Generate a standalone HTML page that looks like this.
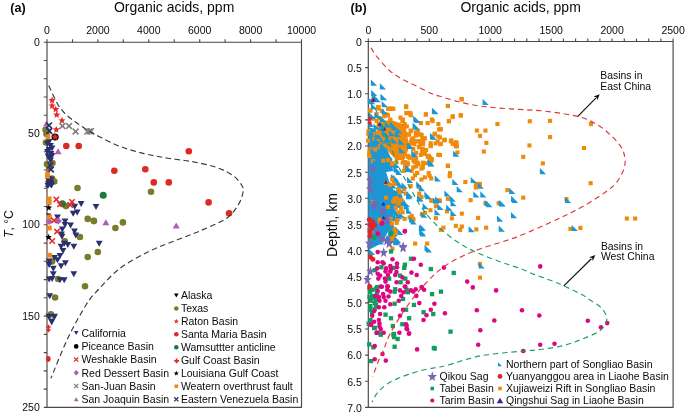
<!DOCTYPE html>
<html><head><meta charset="utf-8"><style>
html,body{margin:0;padding:0;background:#fff;width:685px;height:414px;overflow:hidden}
svg{display:block;will-change:transform}
text{font-family:"Liberation Sans",sans-serif}
</style></head><body>
<svg width="685" height="414" viewBox="0 0 685 414" font-family="Liberation Sans, sans-serif" fill="#0a0a0a">
<rect width="685" height="414" fill="#fff"/>
<rect x="47.0" y="42.2" width="254.5" height="365.2" fill="none" stroke="#4f4543" stroke-width="1.15" stroke-linejoin="round"/>
<path d="M47.0 42.2v-3M72.5 42.2v-3M97.9 42.2v-3M123.3 42.2v-3M148.8 42.2v-3M174.2 42.2v-3M199.7 42.2v-3M225.1 42.2v-3M250.6 42.2v-3M276.1 42.2v-3M301.5 42.2v-3M47.0 42.2h-3.2M47.0 60.5h-3.2M47.0 78.7h-3.2M47.0 97.0h-3.2M47.0 115.2h-3.2M47.0 133.5h-3.2M47.0 151.8h-3.2M47.0 170.0h-3.2M47.0 188.3h-3.2M47.0 206.5h-3.2M47.0 224.8h-3.2M47.0 243.1h-3.2M47.0 261.3h-3.2M47.0 279.6h-3.2M47.0 297.8h-3.2M47.0 316.1h-3.2M47.0 334.4h-3.2M47.0 352.6h-3.2M47.0 370.9h-3.2M47.0 389.1h-3.2M47.0 407.4h-3.2" stroke="#4f4543" stroke-width="1.1" fill="none"/>
<rect x="368.3" y="41.5" width="304.8" height="365.9" fill="none" stroke="#4f4543" stroke-width="1.15" stroke-linejoin="round"/>
<path d="M368.3 41.5v-3M380.5 41.5v-3M392.7 41.5v-3M404.9 41.5v-3M417.1 41.5v-3M429.3 41.5v-3M441.5 41.5v-3M453.6 41.5v-3M465.8 41.5v-3M478.0 41.5v-3M490.2 41.5v-3M502.4 41.5v-3M514.6 41.5v-3M526.8 41.5v-3M539.0 41.5v-3M551.2 41.5v-3M563.4 41.5v-3M575.6 41.5v-3M587.8 41.5v-3M599.9 41.5v-3M612.1 41.5v-3M624.3 41.5v-3M636.5 41.5v-3M648.7 41.5v-3M660.9 41.5v-3M673.1 41.5v-3M368.3 41.5h-3.2M368.3 67.6h-3.2M368.3 93.8h-3.2M368.3 119.9h-3.2M368.3 146.0h-3.2M368.3 172.2h-3.2M368.3 198.3h-3.2M368.3 224.4h-3.2M368.3 250.6h-3.2M368.3 276.7h-3.2M368.3 302.9h-3.2M368.3 329.0h-3.2M368.3 355.1h-3.2M368.3 381.3h-3.2M368.3 407.4h-3.2" stroke="#4f4543" stroke-width="1.1" fill="none"/>
<circle cx="151.0" cy="191.7" r="3.3" fill="#7b7b2c"/>
<circle cx="122.9" cy="222.4" r="3.3" fill="#7b7b2c"/>
<circle cx="93.9" cy="221.1" r="3.3" fill="#7b7b2c"/>
<circle cx="115.4" cy="228.0" r="3.3" fill="#7b7b2c"/>
<circle cx="77.5" cy="188.0" r="3.3" fill="#7b7b2c"/>
<circle cx="66.0" cy="206.1" r="3.3" fill="#7b7b2c"/>
<circle cx="87.7" cy="218.9" r="3.3" fill="#7b7b2c"/>
<circle cx="93.8" cy="220.7" r="3.3" fill="#7b7b2c"/>
<circle cx="79.9" cy="237.0" r="3.3" fill="#7b7b2c"/>
<circle cx="64.8" cy="241.3" r="3.3" fill="#7b7b2c"/>
<circle cx="97.8" cy="252.0" r="3.3" fill="#7b7b2c"/>
<circle cx="87.7" cy="257.0" r="3.3" fill="#7b7b2c"/>
<circle cx="52.1" cy="261.5" r="3.3" fill="#7b7b2c"/>
<circle cx="58.1" cy="279.0" r="3.3" fill="#7b7b2c"/>
<circle cx="85.0" cy="286.3" r="3.3" fill="#7b7b2c"/>
<circle cx="55.1" cy="297.5" r="3.3" fill="#7b7b2c"/>
<circle cx="50.9" cy="314.2" r="3.3" fill="#7b7b2c"/>
<circle cx="46.0" cy="142.5" r="3.3" fill="#7b7b2c"/>
<circle cx="47.0" cy="164.0" r="3.3" fill="#7b7b2c"/>
<circle cx="52.5" cy="163.0" r="3.3" fill="#7b7b2c"/>
<circle cx="49.0" cy="167.5" r="3.3" fill="#7b7b2c"/>
<circle cx="54.3" cy="181.5" r="3.3" fill="#7b7b2c"/>
<circle cx="52.0" cy="178.5" r="3.3" fill="#7b7b2c"/>
<circle cx="45.6" cy="129.7" r="3.3" fill="#7b7b2c"/>
<circle cx="47.0" cy="131.0" r="3.3" fill="#7b7b2c"/>
<circle cx="46.5" cy="134.0" r="3.3" fill="#7b7b2c"/>
<circle cx="66.3" cy="146.0" r="3.3" fill="#dc2a26"/>
<circle cx="78.7" cy="146.0" r="3.3" fill="#dc2a26"/>
<circle cx="114.3" cy="170.8" r="3.3" fill="#dc2a26"/>
<circle cx="188.8" cy="151.2" r="3.3" fill="#dc2a26"/>
<circle cx="145.3" cy="169.3" r="3.3" fill="#dc2a26"/>
<circle cx="153.8" cy="182.4" r="3.3" fill="#dc2a26"/>
<circle cx="168.8" cy="182.4" r="3.3" fill="#dc2a26"/>
<circle cx="208.6" cy="202.4" r="3.3" fill="#dc2a26"/>
<circle cx="229.1" cy="213.3" r="3.3" fill="#dc2a26"/>
<ellipse cx="48.3" cy="358.9" rx="2.3" ry="2.8" fill="#dc2a26"/>
<circle cx="103.2" cy="195.3" r="3.5" fill="#177c3b"/>
<circle cx="62.4" cy="203.7" r="3.5" fill="#177c3b"/>
<path d="M43.1 126.6h7l-3.5 -6z" fill="#b25bb5"/>
<path d="M54.6 154.2h7l-3.5 -6z" fill="#b25bb5"/>
<path d="M172.7 228.5h7l-3.5 -6z" fill="#b25bb5"/>
<path d="M102.4 225.2h7l-3.5 -6z" fill="#b25bb5"/>
<path d="M46.1 213.5h5l-2.5 4z" fill="#000"/>
<path d="M77.7 201.0h6.8l-3.4 6.0z" fill="#28306e"/>
<path d="M71.3 203.8h6.8l-3.4 6.0z" fill="#28306e"/>
<path d="M73.8 209.5h6.8l-3.4 6.0z" fill="#28306e"/>
<path d="M92.6 204.1h6.8l-3.4 6.0z" fill="#28306e"/>
<path d="M69.8 210.7h6.8l-3.4 6.0z" fill="#28306e"/>
<path d="M54.1 214.5h6.8l-3.4 6.0z" fill="#28306e"/>
<path d="M61.6 218.6h6.8l-3.4 6.0z" fill="#28306e"/>
<path d="M61.6 222.0h6.8l-3.4 6.0z" fill="#28306e"/>
<path d="M67.2 222.4h6.8l-3.4 6.0z" fill="#28306e"/>
<path d="M58.9 226.5h6.8l-3.4 6.0z" fill="#28306e"/>
<path d="M58.1 231.5h6.8l-3.4 6.0z" fill="#28306e"/>
<path d="M58.6 233.8h6.8l-3.4 6.0z" fill="#28306e"/>
<path d="M71.1 228.6h6.8l-3.4 6.0z" fill="#28306e"/>
<path d="M72.4 232.4h6.8l-3.4 6.0z" fill="#28306e"/>
<path d="M95.8 240.7h6.8l-3.4 6.0z" fill="#28306e"/>
<path d="M60.8 240.7h6.8l-3.4 6.0z" fill="#28306e"/>
<path d="M57.7 243.7h6.8l-3.4 6.0z" fill="#28306e"/>
<path d="M64.4 241.9h6.8l-3.4 6.0z" fill="#28306e"/>
<path d="M70.4 243.7h6.8l-3.4 6.0z" fill="#28306e"/>
<path d="M59.6 248.0h6.8l-3.4 6.0z" fill="#28306e"/>
<path d="M56.6 253.0h6.8l-3.4 6.0z" fill="#28306e"/>
<path d="M51.1 254.9h6.8l-3.4 6.0z" fill="#28306e"/>
<path d="M54.1 257.3h6.8l-3.4 6.0z" fill="#28306e"/>
<path d="M45.7 258.5h6.8l-3.4 6.0z" fill="#28306e"/>
<path d="M45.7 262.1h6.8l-3.4 6.0z" fill="#28306e"/>
<path d="M62.0 260.3h6.8l-3.4 6.0z" fill="#28306e"/>
<path d="M57.7 263.3h6.8l-3.4 6.0z" fill="#28306e"/>
<path d="M49.9 265.7h6.8l-3.4 6.0z" fill="#28306e"/>
<path d="M49.9 271.2h6.8l-3.4 6.0z" fill="#28306e"/>
<path d="M70.4 271.2h6.8l-3.4 6.0z" fill="#28306e"/>
<path d="M45.7 276.6h6.8l-3.4 6.0z" fill="#28306e"/>
<path d="M48.7 276.0h6.8l-3.4 6.0z" fill="#28306e"/>
<path d="M56.6 277.2h6.8l-3.4 6.0z" fill="#28306e"/>
<path d="M60.8 277.2h6.8l-3.4 6.0z" fill="#28306e"/>
<path d="M46.3 293.2h6.8l-3.4 6.0z" fill="#28306e"/>
<path d="M45.6 139.0h6.8l-3.4 6.0z" fill="#28306e"/>
<path d="M47.1 143.0h6.8l-3.4 6.0z" fill="#28306e"/>
<path d="M45.6 147.0h6.8l-3.4 6.0z" fill="#28306e"/>
<path d="M47.6 151.0h6.8l-3.4 6.0z" fill="#28306e"/>
<path d="M46.1 155.0h6.8l-3.4 6.0z" fill="#28306e"/>
<path d="M47.1 157.5h6.8l-3.4 6.0z" fill="#28306e"/>
<path d="M44.1 141.0h6.8l-3.4 6.0z" fill="#28306e"/>
<path d="M48.6 145.5h6.8l-3.4 6.0z" fill="#28306e"/>
<path d="M44.1 149.0h6.8l-3.4 6.0z" fill="#28306e"/>
<path d="M48.6 153.0h6.8l-3.4 6.0z" fill="#28306e"/>
<path d="M44.6 153.5h6.8l-3.4 6.0z" fill="#28306e"/>
<path d="M45.6 176.0h6.8l-3.4 6.0z" fill="#28306e"/>
<path d="M45.1 178.0h6.8l-3.4 6.0z" fill="#28306e"/>
<path d="M47.1 180.0h6.8l-3.4 6.0z" fill="#28306e"/>
<path d="M44.6 183.0h6.8l-3.4 6.0z" fill="#28306e"/>
<path d="M48.1 182.5h6.8l-3.4 6.0z" fill="#28306e"/>
<path d="M45.4 313.8h12.6l-6.3 11.6z" fill="#28306e"/>
<path d="M49.5 319.0h4.4l-2.2 -3.6z" fill="#8b8c4a"/>
<path d="M50.8 318.5h1.8l-0.9 -1.4z" fill="#fff"/>
<circle cx="55.1" cy="137.0" r="3.6" fill="#000"/>
<path d="M49.2 217.9l3.6 3.6l-3.6 3.6l-3.6 -3.6z" fill="#b25bb5"/>
<path d="M58.3 217.3l3.6 3.6l-3.6 3.6l-3.6 -3.6z" fill="#b25bb5"/>
<path d="M46.1 122.5l5.8 5.8M51.9 122.5l-5.8 5.8" stroke="#28306e" stroke-width="1.7" fill="none"/>
<path d="M46.4 128.1l5.8 5.8M52.2 128.1l-5.8 5.8" stroke="#28306e" stroke-width="1.7" fill="none"/>
<path d="M47.4 162.4l5.8 5.8M53.2 162.4l-5.8 5.8" stroke="#28306e" stroke-width="1.7" fill="none"/>
<path d="M48.0 166.6l5.8 5.8M53.8 166.6l-5.8 5.8" stroke="#28306e" stroke-width="1.7" fill="none"/>
<path d="M45.6 181.1l5.8 5.8M51.4 181.1l-5.8 5.8" stroke="#28306e" stroke-width="1.7" fill="none"/>
<path d="M48.1 177.1l5.8 5.8M53.9 177.1l-5.8 5.8" stroke="#28306e" stroke-width="1.7" fill="none"/>
<rect x="45.5" y="134.6" width="4.8" height="4.8" fill="#f0891a"/>
<rect x="45.1" y="171.9" width="4.8" height="4.8" fill="#f0891a"/>
<rect x="45.1" y="173.9" width="4.8" height="4.8" fill="#f0891a"/>
<rect x="46.8" y="196.5" width="4.8" height="4.8" fill="#f0891a"/>
<rect x="46.8" y="200.2" width="4.8" height="4.8" fill="#f0891a"/>
<rect x="47.2" y="214.5" width="4.8" height="4.8" fill="#f0891a"/>
<rect x="47.0" y="225.6" width="4.8" height="4.8" fill="#f0891a"/>
<rect x="47.3" y="252.8" width="4.8" height="4.8" fill="#f0891a"/>
<path d="M53.6 196.7l5.4 5.4M59.0 196.7l-5.4 5.4" stroke="#e3282a" stroke-width="1.5" fill="none"/>
<path d="M57.3 201.6l5.4 5.4M62.7 201.6l-5.4 5.4" stroke="#e3282a" stroke-width="1.5" fill="none"/>
<path d="M69.3 199.2l5.4 5.4M74.7 199.2l-5.4 5.4" stroke="#e3282a" stroke-width="1.5" fill="none"/>
<path d="M67.5 202.2l5.4 5.4M72.9 202.2l-5.4 5.4" stroke="#e3282a" stroke-width="1.5" fill="none"/>
<path d="M51.3 217.9l5.4 5.4M56.7 217.9l-5.4 5.4" stroke="#e3282a" stroke-width="1.5" fill="none"/>
<path d="M54.3 228.9l5.4 5.4M59.7 228.9l-5.4 5.4" stroke="#e3282a" stroke-width="1.5" fill="none"/>
<path d="M49.5 238.3l5.4 5.4M54.9 238.3l-5.4 5.4" stroke="#e3282a" stroke-width="1.5" fill="none"/>
<path d="M59.5 123.1l5.8 5.8M65.3 123.1l-5.8 5.8" stroke="#7d7d7d" stroke-width="1.5" fill="none"/>
<path d="M66.1 123.1l5.8 5.8M71.9 123.1l-5.8 5.8" stroke="#7d7d7d" stroke-width="1.5" fill="none"/>
<path d="M72.7 128.6l5.8 5.8M78.5 128.6l-5.8 5.8" stroke="#7d7d7d" stroke-width="1.5" fill="none"/>
<path d="M84.4 128.7l5.8 5.8M90.2 128.7l-5.8 5.8" stroke="#7d7d7d" stroke-width="1.5" fill="none"/>
<path d="M86.6 128.5l5.8 5.8M92.4 128.5l-5.8 5.8" stroke="#7d7d7d" stroke-width="1.5" fill="none"/>
<path d="M88.1 128.3l5.8 5.8M93.9 128.3l-5.8 5.8" stroke="#7d7d7d" stroke-width="1.5" fill="none"/>
<polygon points="52.1,96.6 53.1,99.0 55.7,99.2 53.7,100.9 54.3,103.5 52.1,102.1 49.9,103.5 50.5,100.9 48.5,99.2 51.1,99.0" fill="#e3282a"/>
<polygon points="52.1,102.0 53.1,104.4 55.7,104.6 53.7,106.3 54.3,108.9 52.1,107.5 49.9,108.9 50.5,106.3 48.5,104.6 51.1,104.4" fill="#e3282a"/>
<polygon points="55.7,105.6 56.7,108.0 59.3,108.2 57.3,109.9 57.9,112.5 55.7,111.1 53.5,112.5 54.1,109.9 52.1,108.2 54.7,108.0" fill="#e3282a"/>
<polygon points="56.7,111.1 57.7,113.5 60.3,113.7 58.3,115.4 58.9,118.0 56.7,116.6 54.5,118.0 55.1,115.4 53.1,113.7 55.7,113.5" fill="#e3282a"/>
<polygon points="62.0,116.8 63.0,119.2 65.6,119.4 63.6,121.1 64.2,123.7 62.0,122.3 59.8,123.7 60.4,121.1 58.4,119.4 61.0,119.2" fill="#e3282a"/>
<polygon points="56.3,125.9 57.3,128.3 59.9,128.5 57.9,130.2 58.5,132.8 56.3,131.4 54.1,132.8 54.7,130.2 52.7,128.5 55.3,128.3" fill="#e3282a"/>
<polygon points="55.1,133.2 56.1,135.6 58.7,135.8 56.7,137.5 57.3,140.1 55.1,138.7 52.9,140.1 53.5,137.5 51.5,135.8 54.1,135.6" fill="#e3282a"/>
<polygon points="48.8,204.3 49.7,206.5 52.0,206.6 50.3,208.2 50.8,210.5 48.8,209.2 46.8,210.5 47.3,208.2 45.6,206.6 47.9,206.5" fill="#000"/>
<polygon points="48.6,233.8 49.5,236.0 51.8,236.1 50.1,237.7 50.6,240.0 48.6,238.7 46.6,240.0 47.1,237.7 45.4,236.1 47.7,236.0" fill="#000"/>
<path d="M46.3 327.0h4.4M48.5 324.8v4.4" stroke="#e3282a" stroke-width="1.5" fill="none"/>
<path d="M46.3 330.0h4.4M48.5 327.8v4.4" stroke="#e3282a" stroke-width="1.5" fill="none"/>
<polygon points="377.0,122.0 390.0,120.0 400.0,123.0 407.0,132.0 409.0,148.0 404.0,160.0 396.0,160.0 388.0,151.0 381.0,140.0 376.0,128.0" fill="#f08a0a"/>
<polygon points="368.6,127.0 375.0,129.0 382.0,139.0 388.0,151.0 392.0,161.0 393.0,171.0 386.0,172.0 389.0,181.0 394.0,191.0 396.0,200.0 394.0,214.0 389.0,230.0 382.0,243.0 368.6,250.0" fill="#1b98d3"/>
<rect x="415.8" y="128.7" width="4.1" height="4.1" fill="#f08a0a"/>
<rect x="408.8" y="140.0" width="4.1" height="4.1" fill="#f08a0a"/>
<rect x="412.9" y="159.7" width="4.1" height="4.1" fill="#f08a0a"/>
<rect x="398.4" y="115.6" width="4.1" height="4.1" fill="#f08a0a"/>
<rect x="417.7" y="139.1" width="4.1" height="4.1" fill="#f08a0a"/>
<rect x="407.5" y="155.8" width="4.1" height="4.1" fill="#f08a0a"/>
<rect x="401.9" y="168.8" width="4.1" height="4.1" fill="#f08a0a"/>
<rect x="420.4" y="136.1" width="4.1" height="4.1" fill="#f08a0a"/>
<rect x="401.6" y="138.4" width="4.1" height="4.1" fill="#f08a0a"/>
<rect x="407.3" y="142.7" width="4.1" height="4.1" fill="#f08a0a"/>
<rect x="402.0" y="127.3" width="4.1" height="4.1" fill="#f08a0a"/>
<rect x="401.6" y="140.6" width="4.1" height="4.1" fill="#f08a0a"/>
<rect x="376.2" y="104.9" width="4.1" height="4.1" fill="#f08a0a"/>
<rect x="387.8" y="106.7" width="4.1" height="4.1" fill="#f08a0a"/>
<rect x="391.3" y="106.7" width="4.1" height="4.1" fill="#f08a0a"/>
<rect x="404.1" y="104.2" width="4.1" height="4.1" fill="#f08a0a"/>
<rect x="404.6" y="110.9" width="4.1" height="4.1" fill="#f08a0a"/>
<rect x="408.2" y="110.9" width="4.1" height="4.1" fill="#f08a0a"/>
<rect x="408.8" y="113.2" width="4.1" height="4.1" fill="#f08a0a"/>
<rect x="423.9" y="112.5" width="4.1" height="4.1" fill="#f08a0a"/>
<rect x="385.9" y="113.2" width="4.1" height="4.1" fill="#f08a0a"/>
<rect x="368.3" y="108.5" width="4.1" height="4.1" fill="#f08a0a"/>
<rect x="388.3" y="117.5" width="4.1" height="4.1" fill="#f08a0a"/>
<rect x="400.9" y="117.5" width="4.1" height="4.1" fill="#f08a0a"/>
<rect x="429.9" y="117.5" width="4.1" height="4.1" fill="#f08a0a"/>
<rect x="459.8" y="97.4" width="4.1" height="4.1" fill="#f08a0a"/>
<rect x="445.8" y="103.9" width="4.1" height="4.1" fill="#f08a0a"/>
<rect x="450.6" y="115.0" width="4.1" height="4.1" fill="#f08a0a"/>
<rect x="458.6" y="113.5" width="4.1" height="4.1" fill="#f08a0a"/>
<rect x="446.8" y="119.2" width="4.1" height="4.1" fill="#f08a0a"/>
<rect x="438.8" y="127.1" width="4.1" height="4.1" fill="#f08a0a"/>
<rect x="495.4" y="122.0" width="4.1" height="4.1" fill="#f08a0a"/>
<rect x="527.7" y="119.2" width="4.1" height="4.1" fill="#f08a0a"/>
<rect x="548.0" y="118.8" width="4.1" height="4.1" fill="#f08a0a"/>
<rect x="474.8" y="128.5" width="4.1" height="4.1" fill="#f08a0a"/>
<rect x="483.4" y="128.5" width="4.1" height="4.1" fill="#f08a0a"/>
<rect x="477.9" y="133.8" width="4.1" height="4.1" fill="#f08a0a"/>
<rect x="548.0" y="135.0" width="4.1" height="4.1" fill="#f08a0a"/>
<rect x="442.8" y="137.6" width="4.1" height="4.1" fill="#f08a0a"/>
<rect x="449.3" y="138.3" width="4.1" height="4.1" fill="#f08a0a"/>
<rect x="437.9" y="135.3" width="4.1" height="4.1" fill="#f08a0a"/>
<rect x="588.9" y="122.0" width="4.1" height="4.1" fill="#f08a0a"/>
<rect x="581.9" y="146.0" width="4.1" height="4.1" fill="#f08a0a"/>
<rect x="588.6" y="181.1" width="4.1" height="4.1" fill="#f08a0a"/>
<rect x="564.4" y="197.0" width="4.1" height="4.1" fill="#f08a0a"/>
<rect x="568.4" y="226.8" width="4.1" height="4.1" fill="#f08a0a"/>
<rect x="578.4" y="225.9" width="4.1" height="4.1" fill="#f08a0a"/>
<rect x="624.8" y="216.5" width="4.1" height="4.1" fill="#f08a0a"/>
<rect x="633.1" y="216.5" width="4.1" height="4.1" fill="#f08a0a"/>
<rect x="454.6" y="140.8" width="4.1" height="4.1" fill="#f08a0a"/>
<rect x="450.6" y="141.8" width="4.1" height="4.1" fill="#f08a0a"/>
<rect x="454.9" y="144.3" width="4.1" height="4.1" fill="#f08a0a"/>
<rect x="438.8" y="141.8" width="4.1" height="4.1" fill="#f08a0a"/>
<rect x="484.3" y="140.8" width="4.1" height="4.1" fill="#f08a0a"/>
<rect x="527.4" y="143.4" width="4.1" height="4.1" fill="#f08a0a"/>
<rect x="481.8" y="149.5" width="4.1" height="4.1" fill="#f08a0a"/>
<rect x="455.4" y="150.4" width="4.1" height="4.1" fill="#f08a0a"/>
<rect x="521.2" y="154.8" width="4.1" height="4.1" fill="#f08a0a"/>
<rect x="540.8" y="161.3" width="4.1" height="4.1" fill="#f08a0a"/>
<rect x="445.8" y="163.6" width="4.1" height="4.1" fill="#f08a0a"/>
<rect x="437.9" y="153.0" width="4.1" height="4.1" fill="#f08a0a"/>
<rect x="447.6" y="174.1" width="4.1" height="4.1" fill="#f08a0a"/>
<rect x="463.3" y="179.9" width="4.1" height="4.1" fill="#f08a0a"/>
<rect x="473.8" y="181.9" width="4.1" height="4.1" fill="#f08a0a"/>
<rect x="477.9" y="181.9" width="4.1" height="4.1" fill="#f08a0a"/>
<rect x="473.8" y="185.5" width="4.1" height="4.1" fill="#f08a0a"/>
<rect x="505.3" y="188.1" width="4.1" height="4.1" fill="#f08a0a"/>
<rect x="521.2" y="195.6" width="4.1" height="4.1" fill="#f08a0a"/>
<rect x="468.6" y="198.1" width="4.1" height="4.1" fill="#f08a0a"/>
<rect x="445.8" y="196.8" width="4.1" height="4.1" fill="#f08a0a"/>
<rect x="437.9" y="198.6" width="4.1" height="4.1" fill="#f08a0a"/>
<rect x="483.4" y="201.2" width="4.1" height="4.1" fill="#f08a0a"/>
<rect x="496.6" y="201.2" width="4.1" height="4.1" fill="#f08a0a"/>
<rect x="444.9" y="209.3" width="4.1" height="4.1" fill="#f08a0a"/>
<rect x="459.8" y="211.6" width="4.1" height="4.1" fill="#f08a0a"/>
<rect x="449.8" y="216.3" width="4.1" height="4.1" fill="#f08a0a"/>
<rect x="476.1" y="215.9" width="4.1" height="4.1" fill="#f08a0a"/>
<rect x="453.8" y="223.8" width="4.1" height="4.1" fill="#f08a0a"/>
<rect x="459.8" y="224.5" width="4.1" height="4.1" fill="#f08a0a"/>
<rect x="458.1" y="227.8" width="4.1" height="4.1" fill="#f08a0a"/>
<rect x="441.4" y="225.6" width="4.1" height="4.1" fill="#f08a0a"/>
<rect x="438.8" y="227.8" width="4.1" height="4.1" fill="#f08a0a"/>
<rect x="474.3" y="227.3" width="4.1" height="4.1" fill="#f08a0a"/>
<rect x="484.1" y="225.6" width="4.1" height="4.1" fill="#f08a0a"/>
<rect x="477.9" y="261.9" width="4.1" height="4.1" fill="#f08a0a"/>
<rect x="477.9" y="275.6" width="4.1" height="4.1" fill="#f08a0a"/>
<rect x="459.4" y="96.9" width="4.1" height="4.1" fill="#f08a0a"/>
<rect x="445.9" y="104.0" width="4.1" height="4.1" fill="#f08a0a"/>
<rect x="404.1" y="105.0" width="4.1" height="4.1" fill="#f08a0a"/>
<rect x="389.9" y="106.9" width="4.1" height="4.1" fill="#f08a0a"/>
<rect x="386.1" y="106.9" width="4.1" height="4.1" fill="#f08a0a"/>
<rect x="404.4" y="111.2" width="4.1" height="4.1" fill="#f08a0a"/>
<rect x="408.3" y="112.2" width="4.1" height="4.1" fill="#f08a0a"/>
<rect x="423.8" y="112.2" width="4.1" height="4.1" fill="#f08a0a"/>
<rect x="450.8" y="114.2" width="4.1" height="4.1" fill="#f08a0a"/>
<rect x="458.9" y="113.2" width="4.1" height="4.1" fill="#f08a0a"/>
<rect x="446.9" y="119.0" width="4.1" height="4.1" fill="#f08a0a"/>
<rect x="376.4" y="106.5" width="4.1" height="4.1" fill="#f08a0a"/>
<rect x="374.6" y="112.2" width="4.1" height="4.1" fill="#f08a0a"/>
<rect x="384.1" y="112.2" width="4.1" height="4.1" fill="#f08a0a"/>
<rect x="400.6" y="119.0" width="4.1" height="4.1" fill="#f08a0a"/>
<rect x="402.6" y="122.0" width="4.1" height="4.1" fill="#f08a0a"/>
<rect x="396.8" y="122.9" width="4.1" height="4.1" fill="#f08a0a"/>
<rect x="418.9" y="121.0" width="4.1" height="4.1" fill="#f08a0a"/>
<rect x="425.6" y="121.0" width="4.1" height="4.1" fill="#f08a0a"/>
<rect x="430.6" y="119.0" width="4.1" height="4.1" fill="#f08a0a"/>
<rect x="436.3" y="122.0" width="4.1" height="4.1" fill="#f08a0a"/>
<rect x="388.1" y="120.0" width="4.1" height="4.1" fill="#f08a0a"/>
<rect x="391.9" y="122.0" width="4.1" height="4.1" fill="#f08a0a"/>
<rect x="409.2" y="128.6" width="4.1" height="4.1" fill="#f08a0a"/>
<rect x="414.1" y="130.5" width="4.1" height="4.1" fill="#f08a0a"/>
<rect x="418.9" y="132.5" width="4.1" height="4.1" fill="#f08a0a"/>
<rect x="406.3" y="132.5" width="4.1" height="4.1" fill="#f08a0a"/>
<rect x="438.2" y="127.4" width="4.1" height="4.1" fill="#f08a0a"/>
<rect x="432.4" y="132.5" width="4.1" height="4.1" fill="#f08a0a"/>
<rect x="436.3" y="134.4" width="4.1" height="4.1" fill="#f08a0a"/>
<rect x="396.8" y="128.6" width="4.1" height="4.1" fill="#f08a0a"/>
<rect x="400.6" y="131.5" width="4.1" height="4.1" fill="#f08a0a"/>
<rect x="411.2" y="136.3" width="4.1" height="4.1" fill="#f08a0a"/>
<rect x="422.8" y="136.3" width="4.1" height="4.1" fill="#f08a0a"/>
<rect x="415.1" y="139.2" width="4.1" height="4.1" fill="#f08a0a"/>
<rect x="420.8" y="141.2" width="4.1" height="4.1" fill="#f08a0a"/>
<rect x="409.2" y="140.2" width="4.1" height="4.1" fill="#f08a0a"/>
<rect x="442.1" y="138.3" width="4.1" height="4.1" fill="#f08a0a"/>
<rect x="448.8" y="139.2" width="4.1" height="4.1" fill="#f08a0a"/>
<rect x="453.6" y="140.2" width="4.1" height="4.1" fill="#f08a0a"/>
<rect x="453.6" y="144.1" width="4.1" height="4.1" fill="#f08a0a"/>
<rect x="428.6" y="141.2" width="4.1" height="4.1" fill="#f08a0a"/>
<rect x="428.6" y="144.1" width="4.1" height="4.1" fill="#f08a0a"/>
<rect x="438.2" y="142.1" width="4.1" height="4.1" fill="#f08a0a"/>
<rect x="417.1" y="145.0" width="4.1" height="4.1" fill="#f08a0a"/>
<rect x="420.8" y="147.0" width="4.1" height="4.1" fill="#f08a0a"/>
<rect x="411.2" y="147.0" width="4.1" height="4.1" fill="#f08a0a"/>
<rect x="414.1" y="150.8" width="4.1" height="4.1" fill="#f08a0a"/>
<rect x="422.8" y="151.8" width="4.1" height="4.1" fill="#f08a0a"/>
<rect x="399.6" y="148.9" width="4.1" height="4.1" fill="#f08a0a"/>
<rect x="402.6" y="150.8" width="4.1" height="4.1" fill="#f08a0a"/>
<rect x="406.3" y="154.8" width="4.1" height="4.1" fill="#f08a0a"/>
<rect x="436.3" y="152.8" width="4.1" height="4.1" fill="#f08a0a"/>
<rect x="425.6" y="154.8" width="4.1" height="4.1" fill="#f08a0a"/>
<rect x="428.6" y="156.6" width="4.1" height="4.1" fill="#f08a0a"/>
<rect x="414.1" y="156.6" width="4.1" height="4.1" fill="#f08a0a"/>
<rect x="416.1" y="161.4" width="4.1" height="4.1" fill="#f08a0a"/>
<rect x="420.8" y="165.3" width="4.1" height="4.1" fill="#f08a0a"/>
<rect x="411.2" y="165.3" width="4.1" height="4.1" fill="#f08a0a"/>
<rect x="445.9" y="163.9" width="4.1" height="4.1" fill="#f08a0a"/>
<rect x="400.6" y="160.5" width="4.1" height="4.1" fill="#f08a0a"/>
<rect x="404.4" y="164.3" width="4.1" height="4.1" fill="#f08a0a"/>
<rect x="447.9" y="171.1" width="4.1" height="4.1" fill="#f08a0a"/>
<rect x="426.6" y="171.1" width="4.1" height="4.1" fill="#f08a0a"/>
<rect x="415.1" y="171.1" width="4.1" height="4.1" fill="#f08a0a"/>
<rect x="376.4" y="105.0" width="4.1" height="4.1" fill="#f08a0a"/>
<rect x="388.6" y="106.5" width="4.1" height="4.1" fill="#f08a0a"/>
<rect x="368.2" y="108.5" width="4.1" height="4.1" fill="#f08a0a"/>
<rect x="379.8" y="108.9" width="4.1" height="4.1" fill="#f08a0a"/>
<rect x="385.1" y="113.2" width="4.1" height="4.1" fill="#f08a0a"/>
<rect x="371.1" y="116.7" width="4.1" height="4.1" fill="#f08a0a"/>
<rect x="382.2" y="114.2" width="4.1" height="4.1" fill="#f08a0a"/>
<rect x="388.1" y="119.0" width="4.1" height="4.1" fill="#f08a0a"/>
<rect x="390.9" y="121.0" width="4.1" height="4.1" fill="#f08a0a"/>
<rect x="396.8" y="123.0" width="4.1" height="4.1" fill="#f08a0a"/>
<rect x="400.6" y="119.0" width="4.1" height="4.1" fill="#f08a0a"/>
<rect x="377.4" y="116.2" width="4.1" height="4.1" fill="#f08a0a"/>
<rect x="374.6" y="119.0" width="4.1" height="4.1" fill="#f08a0a"/>
<rect x="384.6" y="124.9" width="4.1" height="4.1" fill="#f08a0a"/>
<rect x="377.9" y="126.3" width="4.1" height="4.1" fill="#f08a0a"/>
<rect x="387.6" y="127.8" width="4.1" height="4.1" fill="#f08a0a"/>
<rect x="375.6" y="131.1" width="4.1" height="4.1" fill="#f08a0a"/>
<rect x="396.8" y="128.6" width="4.1" height="4.1" fill="#f08a0a"/>
<rect x="400.6" y="125.9" width="4.1" height="4.1" fill="#f08a0a"/>
<rect x="378.9" y="129.1" width="4.1" height="4.1" fill="#f08a0a"/>
<rect x="371.1" y="200.1" width="4.1" height="4.1" fill="#f08a0a"/>
<rect x="377.6" y="217.5" width="4.1" height="4.1" fill="#f08a0a"/>
<rect x="378.1" y="219.6" width="4.1" height="4.1" fill="#f08a0a"/>
<rect x="369.4" y="228.9" width="4.1" height="4.1" fill="#f08a0a"/>
<rect x="391.8" y="227.8" width="4.1" height="4.1" fill="#f08a0a"/>
<rect x="392.2" y="232.8" width="4.1" height="4.1" fill="#f08a0a"/>
<rect x="389.1" y="224.5" width="4.1" height="4.1" fill="#f08a0a"/>
<rect x="407.6" y="215.3" width="4.1" height="4.1" fill="#f08a0a"/>
<rect x="411.3" y="217.5" width="4.1" height="4.1" fill="#f08a0a"/>
<rect x="413.1" y="241.5" width="4.1" height="4.1" fill="#f08a0a"/>
<rect x="425.1" y="241.5" width="4.1" height="4.1" fill="#f08a0a"/>
<rect x="390.4" y="246.6" width="4.1" height="4.1" fill="#f08a0a"/>
<rect x="400.8" y="124.0" width="4.1" height="4.1" fill="#f08a0a"/>
<rect x="404.8" y="124.4" width="4.1" height="4.1" fill="#f08a0a"/>
<rect x="408.6" y="128.8" width="4.1" height="4.1" fill="#f08a0a"/>
<rect x="407.1" y="132.6" width="4.1" height="4.1" fill="#f08a0a"/>
<rect x="399.8" y="131.6" width="4.1" height="4.1" fill="#f08a0a"/>
<rect x="399.3" y="135.5" width="4.1" height="4.1" fill="#f08a0a"/>
<rect x="401.8" y="136.4" width="4.1" height="4.1" fill="#f08a0a"/>
<rect x="413.8" y="130.6" width="4.1" height="4.1" fill="#f08a0a"/>
<rect x="413.8" y="133.5" width="4.1" height="4.1" fill="#f08a0a"/>
<rect x="417.2" y="132.6" width="4.1" height="4.1" fill="#f08a0a"/>
<rect x="419.6" y="133.0" width="4.1" height="4.1" fill="#f08a0a"/>
<rect x="422.1" y="136.4" width="4.1" height="4.1" fill="#f08a0a"/>
<rect x="421.1" y="139.3" width="4.1" height="4.1" fill="#f08a0a"/>
<rect x="409.6" y="137.4" width="4.1" height="4.1" fill="#f08a0a"/>
<rect x="412.4" y="139.3" width="4.1" height="4.1" fill="#f08a0a"/>
<rect x="408.6" y="141.3" width="4.1" height="4.1" fill="#f08a0a"/>
<rect x="412.4" y="142.2" width="4.1" height="4.1" fill="#f08a0a"/>
<rect x="418.2" y="142.2" width="4.1" height="4.1" fill="#f08a0a"/>
<rect x="416.8" y="145.1" width="4.1" height="4.1" fill="#f08a0a"/>
<rect x="421.1" y="142.2" width="4.1" height="4.1" fill="#f08a0a"/>
<rect x="399.8" y="143.2" width="4.1" height="4.1" fill="#f08a0a"/>
<rect x="402.8" y="144.2" width="4.1" height="4.1" fill="#f08a0a"/>
<rect x="399.3" y="146.1" width="4.1" height="4.1" fill="#f08a0a"/>
<rect x="424.1" y="148.0" width="4.1" height="4.1" fill="#f08a0a"/>
<rect x="420.1" y="149.0" width="4.1" height="4.1" fill="#f08a0a"/>
<rect x="418.8" y="152.9" width="4.1" height="4.1" fill="#f08a0a"/>
<rect x="399.8" y="151.9" width="4.1" height="4.1" fill="#f08a0a"/>
<rect x="401.3" y="154.8" width="4.1" height="4.1" fill="#f08a0a"/>
<rect x="406.1" y="153.8" width="4.1" height="4.1" fill="#f08a0a"/>
<rect x="411.4" y="155.8" width="4.1" height="4.1" fill="#f08a0a"/>
<rect x="411.4" y="158.6" width="4.1" height="4.1" fill="#f08a0a"/>
<rect x="426.9" y="153.8" width="4.1" height="4.1" fill="#f08a0a"/>
<rect x="427.9" y="155.8" width="4.1" height="4.1" fill="#f08a0a"/>
<rect x="429.8" y="157.2" width="4.1" height="4.1" fill="#f08a0a"/>
<rect x="402.8" y="160.1" width="4.1" height="4.1" fill="#f08a0a"/>
<rect x="405.6" y="160.6" width="4.1" height="4.1" fill="#f08a0a"/>
<rect x="415.3" y="160.6" width="4.1" height="4.1" fill="#f08a0a"/>
<rect x="421.1" y="160.6" width="4.1" height="4.1" fill="#f08a0a"/>
<rect x="428.8" y="143.2" width="4.1" height="4.1" fill="#f08a0a"/>
<rect x="433.6" y="141.3" width="4.1" height="4.1" fill="#f08a0a"/>
<rect x="435.6" y="139.3" width="4.1" height="4.1" fill="#f08a0a"/>
<rect x="432.8" y="131.6" width="4.1" height="4.1" fill="#f08a0a"/>
<rect x="437.1" y="127.3" width="4.1" height="4.1" fill="#f08a0a"/>
<rect x="436.6" y="152.9" width="4.1" height="4.1" fill="#f08a0a"/>
<rect x="402.1" y="160.1" width="4.1" height="4.1" fill="#f08a0a"/>
<rect x="405.8" y="162.2" width="4.1" height="4.1" fill="#f08a0a"/>
<rect x="403.1" y="164.4" width="4.1" height="4.1" fill="#f08a0a"/>
<rect x="412.9" y="160.1" width="4.1" height="4.1" fill="#f08a0a"/>
<rect x="416.2" y="162.2" width="4.1" height="4.1" fill="#f08a0a"/>
<rect x="420.6" y="163.9" width="4.1" height="4.1" fill="#f08a0a"/>
<rect x="423.8" y="161.2" width="4.1" height="4.1" fill="#f08a0a"/>
<rect x="419.4" y="166.6" width="4.1" height="4.1" fill="#f08a0a"/>
<rect x="429.2" y="159.0" width="4.1" height="4.1" fill="#f08a0a"/>
<rect x="414.1" y="164.4" width="4.1" height="4.1" fill="#f08a0a"/>
<rect x="403.1" y="167.8" width="4.1" height="4.1" fill="#f08a0a"/>
<rect x="409.6" y="168.8" width="4.1" height="4.1" fill="#f08a0a"/>
<rect x="415.1" y="170.9" width="4.1" height="4.1" fill="#f08a0a"/>
<rect x="412.9" y="173.1" width="4.1" height="4.1" fill="#f08a0a"/>
<rect x="410.8" y="176.4" width="4.1" height="4.1" fill="#f08a0a"/>
<rect x="419.4" y="177.5" width="4.1" height="4.1" fill="#f08a0a"/>
<rect x="422.8" y="175.3" width="4.1" height="4.1" fill="#f08a0a"/>
<rect x="427.6" y="173.8" width="4.1" height="4.1" fill="#f08a0a"/>
<rect x="429.2" y="176.4" width="4.1" height="4.1" fill="#f08a0a"/>
<rect x="408.6" y="184.0" width="4.1" height="4.1" fill="#f08a0a"/>
<rect x="416.8" y="185.1" width="4.1" height="4.1" fill="#f08a0a"/>
<rect x="402.1" y="187.2" width="4.1" height="4.1" fill="#f08a0a"/>
<rect x="403.8" y="191.6" width="4.1" height="4.1" fill="#f08a0a"/>
<rect x="417.2" y="191.6" width="4.1" height="4.1" fill="#f08a0a"/>
<rect x="419.4" y="194.9" width="4.1" height="4.1" fill="#f08a0a"/>
<rect x="429.8" y="198.8" width="4.1" height="4.1" fill="#f08a0a"/>
<rect x="437.9" y="198.8" width="4.1" height="4.1" fill="#f08a0a"/>
<rect x="401.1" y="200.2" width="4.1" height="4.1" fill="#f08a0a"/>
<rect x="399.1" y="206.2" width="4.1" height="4.1" fill="#f08a0a"/>
<rect x="400.6" y="210.2" width="4.1" height="4.1" fill="#f08a0a"/>
<rect x="428.4" y="208.2" width="4.1" height="4.1" fill="#f08a0a"/>
<rect x="429.1" y="198.2" width="4.1" height="4.1" fill="#f08a0a"/>
<rect x="433.8" y="204.2" width="4.1" height="4.1" fill="#f08a0a"/>
<rect x="435.8" y="198.2" width="4.1" height="4.1" fill="#f08a0a"/>
<rect x="433.8" y="216.1" width="4.1" height="4.1" fill="#f08a0a"/>
<rect x="423.1" y="210.8" width="4.1" height="4.1" fill="#f08a0a"/>
<rect x="419.8" y="212.2" width="4.1" height="4.1" fill="#f08a0a"/>
<rect x="409.8" y="214.1" width="4.1" height="4.1" fill="#f08a0a"/>
<rect x="411.1" y="216.8" width="4.1" height="4.1" fill="#f08a0a"/>
<rect x="402.6" y="216.8" width="4.1" height="4.1" fill="#f08a0a"/>
<path d="M380.0 122.2v6.2h6.2z" fill="#1b98d3"/>
<path d="M384.8 121.2v6.2h6.2z" fill="#1b98d3"/>
<path d="M389.8 121.3v6.2h6.2z" fill="#1b98d3"/>
<path d="M379.2 124.7v6.2h6.2z" fill="#1b98d3"/>
<path d="M396.2 127.3v6.2h6.2z" fill="#1b98d3"/>
<path d="M383.3 131.0v6.2h6.2z" fill="#1b98d3"/>
<path d="M388.9 130.1v6.2h6.2z" fill="#1b98d3"/>
<path d="M394.7 130.7v6.2h6.2z" fill="#1b98d3"/>
<path d="M385.3 135.8v6.2h6.2z" fill="#1b98d3"/>
<path d="M391.3 137.4v6.2h6.2z" fill="#1b98d3"/>
<path d="M384.2 139.6v6.2h6.2z" fill="#1b98d3"/>
<path d="M398.9 147.1v6.2h6.2z" fill="#1b98d3"/>
<path d="M388.0 202.5v6.2h6.2z" fill="#1b98d3"/>
<path d="M396.4 190.7v6.2h6.2z" fill="#1b98d3"/>
<path d="M392.8 160.8v6.2h6.2z" fill="#1b98d3"/>
<path d="M392.7 226.8v6.2h6.2z" fill="#1b98d3"/>
<path d="M390.7 215.1v6.2h6.2z" fill="#1b98d3"/>
<path d="M394.9 201.3v6.2h6.2z" fill="#1b98d3"/>
<path d="M396.9 190.4v6.2h6.2z" fill="#1b98d3"/>
<path d="M388.4 220.6v6.2h6.2z" fill="#1b98d3"/>
<path d="M389.3 233.0v6.2h6.2z" fill="#1b98d3"/>
<path d="M398.7 187.0v6.2h6.2z" fill="#1b98d3"/>
<path d="M392.6 174.6v6.2h6.2z" fill="#1b98d3"/>
<path d="M390.4 182.4v6.2h6.2z" fill="#1b98d3"/>
<path d="M387.6 200.7v6.2h6.2z" fill="#1b98d3"/>
<path d="M391.8 230.1v6.2h6.2z" fill="#1b98d3"/>
<path d="M393.4 161.9v6.2h6.2z" fill="#1b98d3"/>
<path d="M397.6 199.3v6.2h6.2z" fill="#1b98d3"/>
<path d="M394.1 166.3v6.2h6.2z" fill="#1b98d3"/>
<path d="M396.3 199.7v6.2h6.2z" fill="#1b98d3"/>
<path d="M386.4 152.7v6.2h6.2z" fill="#1b98d3"/>
<path d="M388.7 160.8v6.2h6.2z" fill="#1b98d3"/>
<path d="M386.6 217.6v6.2h6.2z" fill="#1b98d3"/>
<path d="M394.2 177.3v6.2h6.2z" fill="#1b98d3"/>
<path d="M386.9 154.0v6.2h6.2z" fill="#1b98d3"/>
<path d="M392.3 161.3v6.2h6.2z" fill="#1b98d3"/>
<path d="M386.9 235.1v6.2h6.2z" fill="#1b98d3"/>
<path d="M397.4 181.7v6.2h6.2z" fill="#1b98d3"/>
<path d="M389.6 194.7v6.2h6.2z" fill="#1b98d3"/>
<path d="M392.9 201.7v6.2h6.2z" fill="#1b98d3"/>
<path d="M391.4 204.0v6.2h6.2z" fill="#1b98d3"/>
<path d="M398.2 193.5v6.2h6.2z" fill="#1b98d3"/>
<path d="M389.1 213.2v6.2h6.2z" fill="#1b98d3"/>
<path d="M388.8 200.3v6.2h6.2z" fill="#1b98d3"/>
<path d="M392.6 189.8v6.2h6.2z" fill="#1b98d3"/>
<path d="M393.5 179.3v6.2h6.2z" fill="#1b98d3"/>
<path d="M394.0 214.8v6.2h6.2z" fill="#1b98d3"/>
<path d="M392.0 176.3v6.2h6.2z" fill="#1b98d3"/>
<path d="M387.9 201.7v6.2h6.2z" fill="#1b98d3"/>
<path d="M391.5 214.5v6.2h6.2z" fill="#1b98d3"/>
<path d="M395.8 168.9v6.2h6.2z" fill="#1b98d3"/>
<path d="M396.3 187.2v6.2h6.2z" fill="#1b98d3"/>
<path d="M370.9 79.6v6.2h6.2z" fill="#1b98d3"/>
<path d="M379.9 83.2v6.2h6.2z" fill="#1b98d3"/>
<path d="M371.1 89.7v6.2h6.2z" fill="#1b98d3"/>
<path d="M380.5 93.9v6.2h6.2z" fill="#1b98d3"/>
<path d="M373.9 95.7v6.2h6.2z" fill="#1b98d3"/>
<path d="M367.8 97.5v6.2h6.2z" fill="#1b98d3"/>
<path d="M381.7 101.1v6.2h6.2z" fill="#1b98d3"/>
<path d="M370.9 103.0v6.2h6.2z" fill="#1b98d3"/>
<path d="M381.7 108.4v6.2h6.2z" fill="#1b98d3"/>
<path d="M432.2 107.8v6.2h6.2z" fill="#1b98d3"/>
<path d="M369.0 112.7v6.2h6.2z" fill="#1b98d3"/>
<path d="M374.5 112.0v6.2h6.2z" fill="#1b98d3"/>
<path d="M413.2 115.7v6.2h6.2z" fill="#1b98d3"/>
<path d="M379.9 115.7v6.2h6.2z" fill="#1b98d3"/>
<path d="M371.6 92.7v6.2h6.2z" fill="#1b98d3"/>
<path d="M380.8 94.1v6.2h6.2z" fill="#1b98d3"/>
<path d="M369.2 98.0v6.2h6.2z" fill="#1b98d3"/>
<path d="M374.5 96.0v6.2h6.2z" fill="#1b98d3"/>
<path d="M369.2 112.5v6.2h6.2z" fill="#1b98d3"/>
<path d="M380.3 115.9v6.2h6.2z" fill="#1b98d3"/>
<path d="M368.2 120.7v6.2h6.2z" fill="#1b98d3"/>
<path d="M373.5 123.6v6.2h6.2z" fill="#1b98d3"/>
<path d="M391.4 124.1v6.2h6.2z" fill="#1b98d3"/>
<path d="M371.1 128.4v6.2h6.2z" fill="#1b98d3"/>
<path d="M381.7 129.9v6.2h6.2z" fill="#1b98d3"/>
<path d="M482.6 98.8v6.2h6.2z" fill="#1b98d3"/>
<path d="M431.9 108.1v6.2h6.2z" fill="#1b98d3"/>
<path d="M414.5 116.8v6.2h6.2z" fill="#1b98d3"/>
<path d="M412.6 122.6v6.2h6.2z" fill="#1b98d3"/>
<path d="M430.0 133.2v6.2h6.2z" fill="#1b98d3"/>
<path d="M453.1 150.6v6.2h6.2z" fill="#1b98d3"/>
<path d="M411.6 150.6v6.2h6.2z" fill="#1b98d3"/>
<path d="M428.0 160.2v6.2h6.2z" fill="#1b98d3"/>
<path d="M405.8 165.1v6.2h6.2z" fill="#1b98d3"/>
<path d="M406.8 142.9v6.2h6.2z" fill="#1b98d3"/>
<path d="M539.9 168.1v6.2h6.2z" fill="#1b98d3"/>
<path d="M452.3 178.7v6.2h6.2z" fill="#1b98d3"/>
<path d="M470.7 176.9v6.2h6.2z" fill="#1b98d3"/>
<path d="M456.7 186.0v6.2h6.2z" fill="#1b98d3"/>
<path d="M477.7 182.5v6.2h6.2z" fill="#1b98d3"/>
<path d="M444.4 190.4v6.2h6.2z" fill="#1b98d3"/>
<path d="M473.3 191.3v6.2h6.2z" fill="#1b98d3"/>
<path d="M480.3 191.3v6.2h6.2z" fill="#1b98d3"/>
<path d="M509.2 187.8v6.2h6.2z" fill="#1b98d3"/>
<path d="M511.0 195.7v6.2h6.2z" fill="#1b98d3"/>
<path d="M449.7 195.6v6.2h6.2z" fill="#1b98d3"/>
<path d="M450.5 200.0v6.2h6.2z" fill="#1b98d3"/>
<path d="M484.7 200.0v6.2h6.2z" fill="#1b98d3"/>
<path d="M498.7 200.0v6.2h6.2z" fill="#1b98d3"/>
<path d="M486.4 201.1v6.2h6.2z" fill="#1b98d3"/>
<path d="M499.6 200.2v6.2h6.2z" fill="#1b98d3"/>
<path d="M511.9 196.7v6.2h6.2z" fill="#1b98d3"/>
<path d="M446.2 204.6v6.2h6.2z" fill="#1b98d3"/>
<path d="M450.5 209.8v6.2h6.2z" fill="#1b98d3"/>
<path d="M437.4 203.7v6.2h6.2z" fill="#1b98d3"/>
<path d="M497.0 215.6v6.2h6.2z" fill="#1b98d3"/>
<path d="M511.0 212.1v6.2h6.2z" fill="#1b98d3"/>
<path d="M468.6 226.1v6.2h6.2z" fill="#1b98d3"/>
<path d="M498.7 225.6v6.2h6.2z" fill="#1b98d3"/>
<path d="M478.6 262.4v6.2h6.2z" fill="#1b98d3"/>
<path d="M565.0 196.9v6.2h6.2z" fill="#1b98d3"/>
<path d="M571.7 224.9v6.2h6.2z" fill="#1b98d3"/>
<path d="M397.2 198.3v6.2h6.2z" fill="#1b98d3"/>
<path d="M389.6 203.2v6.2h6.2z" fill="#1b98d3"/>
<path d="M403.7 203.2v6.2h6.2z" fill="#1b98d3"/>
<path d="M393.9 209.7v6.2h6.2z" fill="#1b98d3"/>
<path d="M396.1 213.0v6.2h6.2z" fill="#1b98d3"/>
<path d="M409.1 216.3v6.2h6.2z" fill="#1b98d3"/>
<path d="M390.7 223.9v6.2h6.2z" fill="#1b98d3"/>
<path d="M395.0 227.1v6.2h6.2z" fill="#1b98d3"/>
<path d="M418.9 225.0v6.2h6.2z" fill="#1b98d3"/>
<path d="M395.0 236.9v6.2h6.2z" fill="#1b98d3"/>
<path d="M420.0 230.4v6.2h6.2z" fill="#1b98d3"/>
<path d="M393.2 239.1v6.2h6.2z" fill="#1b98d3"/>
<path d="M425.8 246.4v6.2h6.2z" fill="#1b98d3"/>
<path d="M369.0 248.8v6.2h6.2z" fill="#1b98d3"/>
<path d="M413.3 123.6v6.2h6.2z" fill="#1b98d3"/>
<path d="M430.3 133.3v6.2h6.2z" fill="#1b98d3"/>
<path d="M407.5 142.5v6.2h6.2z" fill="#1b98d3"/>
<path d="M411.4 150.7v6.2h6.2z" fill="#1b98d3"/>
<path d="M427.4 158.9v6.2h6.2z" fill="#1b98d3"/>
<path d="M398.4 138.6v6.2h6.2z" fill="#1b98d3"/>
<path d="M428.2 160.0v6.2h6.2z" fill="#1b98d3"/>
<path d="M393.4 165.9v6.2h6.2z" fill="#1b98d3"/>
<path d="M405.3 165.9v6.2h6.2z" fill="#1b98d3"/>
<path d="M407.0 176.8v6.2h6.2z" fill="#1b98d3"/>
<path d="M434.7 175.2v6.2h6.2z" fill="#1b98d3"/>
<path d="M390.7 174.1v6.2h6.2z" fill="#1b98d3"/>
<path d="M398.3 182.2v6.2h6.2z" fill="#1b98d3"/>
<path d="M401.5 182.2v6.2h6.2z" fill="#1b98d3"/>
<path d="M416.2 181.2v6.2h6.2z" fill="#1b98d3"/>
<path d="M418.9 185.0v6.2h6.2z" fill="#1b98d3"/>
<path d="M407.0 191.5v6.2h6.2z" fill="#1b98d3"/>
<path d="M424.4 191.5v6.2h6.2z" fill="#1b98d3"/>
<path d="M417.3 195.3v6.2h6.2z" fill="#1b98d3"/>
<path d="M433.1 197.5v6.2h6.2z" fill="#1b98d3"/>
<path d="M389.6 181.7v6.2h6.2z" fill="#1b98d3"/>
<path d="M393.9 189.3v6.2h6.2z" fill="#1b98d3"/>
<path d="M401.5 199.1v6.2h6.2z" fill="#1b98d3"/>
<path d="M389.0 192.6v6.2h6.2z" fill="#1b98d3"/>
<path d="M395.3 193.0v6.2h6.2z" fill="#1b98d3"/>
<path d="M406.0 193.0v6.2h6.2z" fill="#1b98d3"/>
<path d="M417.2 195.0v6.2h6.2z" fill="#1b98d3"/>
<path d="M425.2 193.0v6.2h6.2z" fill="#1b98d3"/>
<path d="M435.2 196.3v6.2h6.2z" fill="#1b98d3"/>
<path d="M388.0 198.3v6.2h6.2z" fill="#1b98d3"/>
<path d="M401.3 199.7v6.2h6.2z" fill="#1b98d3"/>
<path d="M404.0 201.0v6.2h6.2z" fill="#1b98d3"/>
<path d="M422.6 203.0v6.2h6.2z" fill="#1b98d3"/>
<path d="M392.0 207.0v6.2h6.2z" fill="#1b98d3"/>
<path d="M398.6 211.6v6.2h6.2z" fill="#1b98d3"/>
<path d="M406.0 207.6v6.2h6.2z" fill="#1b98d3"/>
<path d="M386.7 210.3v6.2h6.2z" fill="#1b98d3"/>
<path d="M390.7 212.9v6.2h6.2z" fill="#1b98d3"/>
<path d="M410.6 218.3v6.2h6.2z" fill="#1b98d3"/>
<path d="M419.9 224.2v6.2h6.2z" fill="#1b98d3"/>
<path d="M419.2 228.9v6.2h6.2z" fill="#1b98d3"/>
<path d="M434.5 209.0v6.2h6.2z" fill="#1b98d3"/>
<path d="M421.2 211.6v6.2h6.2z" fill="#1b98d3"/>
<path d="M388.0 224.9v6.2h6.2z" fill="#1b98d3"/>
<path d="M394.7 226.2v6.2h6.2z" fill="#1b98d3"/>
<path d="M397.3 228.9v6.2h6.2z" fill="#1b98d3"/>
<path d="M392.0 236.9v6.2h6.2z" fill="#1b98d3"/>
<path d="M394.7 238.2v6.2h6.2z" fill="#1b98d3"/>
<path d="M424.5 244.8v6.2h6.2z" fill="#1b98d3"/>
<path d="M382.4 235.2v6.2h6.2z" fill="#1b98d3"/>
<path d="M388.4 233.2v6.2h6.2z" fill="#1b98d3"/>
<path d="M377.9 238.2v6.2h6.2z" fill="#1b98d3"/>
<path d="M393.4 235.2v6.2h6.2z" fill="#1b98d3"/>
<rect x="367.4" y="149.9" width="4.1" height="4.1" fill="#f08a0a"/>
<rect x="367.4" y="153.9" width="4.1" height="4.1" fill="#f08a0a"/>
<rect x="383.9" y="180.9" width="4.1" height="4.1" fill="#f08a0a"/>
<rect x="387.9" y="182.9" width="4.1" height="4.1" fill="#f08a0a"/>
<rect x="385.9" y="157.9" width="4.1" height="4.1" fill="#f08a0a"/>
<rect x="389.9" y="161.9" width="4.1" height="4.1" fill="#f08a0a"/>
<rect x="383.9" y="195.6" width="4.1" height="4.1" fill="#f08a0a"/>
<rect x="392.6" y="196.9" width="4.1" height="4.1" fill="#f08a0a"/>
<rect x="397.8" y="198.2" width="4.1" height="4.1" fill="#f08a0a"/>
<rect x="392.6" y="199.5" width="4.1" height="4.1" fill="#f08a0a"/>
<rect x="396.6" y="201.5" width="4.1" height="4.1" fill="#f08a0a"/>
<rect x="385.9" y="204.9" width="4.1" height="4.1" fill="#f08a0a"/>
<rect x="393.8" y="205.5" width="4.1" height="4.1" fill="#f08a0a"/>
<rect x="396.6" y="210.2" width="4.1" height="4.1" fill="#f08a0a"/>
<rect x="388.6" y="216.8" width="4.1" height="4.1" fill="#f08a0a"/>
<rect x="389.9" y="221.5" width="4.1" height="4.1" fill="#f08a0a"/>
<rect x="392.6" y="227.4" width="4.1" height="4.1" fill="#f08a0a"/>
<rect x="393.8" y="230.1" width="4.1" height="4.1" fill="#f08a0a"/>
<rect x="391.2" y="234.1" width="4.1" height="4.1" fill="#f08a0a"/>
<rect x="389.9" y="236.8" width="4.1" height="4.1" fill="#f08a0a"/>
<rect x="394.6" y="220.8" width="4.1" height="4.1" fill="#f08a0a"/>
<rect x="395.2" y="218.1" width="4.1" height="4.1" fill="#f08a0a"/>
<rect x="390.1" y="161.2" width="4.1" height="4.1" fill="#f08a0a"/>
<rect x="394.4" y="160.1" width="4.1" height="4.1" fill="#f08a0a"/>
<rect x="392.2" y="181.8" width="4.1" height="4.1" fill="#f08a0a"/>
<rect x="390.1" y="177.5" width="4.1" height="4.1" fill="#f08a0a"/>
<rect x="396.6" y="187.2" width="4.1" height="4.1" fill="#f08a0a"/>
<rect x="397.8" y="190.5" width="4.1" height="4.1" fill="#f08a0a"/>
<rect x="394.4" y="195.9" width="4.1" height="4.1" fill="#f08a0a"/>
<rect x="398.8" y="198.1" width="4.1" height="4.1" fill="#f08a0a"/>
<rect x="391.2" y="199.2" width="4.1" height="4.1" fill="#f08a0a"/>
<rect x="366.4" y="129.3" width="4.1" height="4.1" fill="#f08a0a"/>
<rect x="366.2" y="131.8" width="4.1" height="4.1" fill="#f08a0a"/>
<rect x="372.8" y="132.0" width="4.1" height="4.1" fill="#f08a0a"/>
<rect x="366.0" y="138.6" width="4.1" height="4.1" fill="#f08a0a"/>
<rect x="372.4" y="136.8" width="4.1" height="4.1" fill="#f08a0a"/>
<rect x="376.1" y="137.3" width="4.1" height="4.1" fill="#f08a0a"/>
<rect x="378.1" y="142.1" width="4.1" height="4.1" fill="#f08a0a"/>
<rect x="383.0" y="143.4" width="4.1" height="4.1" fill="#f08a0a"/>
<rect x="368.4" y="147.1" width="4.1" height="4.1" fill="#f08a0a"/>
<rect x="372.8" y="147.4" width="4.1" height="4.1" fill="#f08a0a"/>
<rect x="375.7" y="146.7" width="4.1" height="4.1" fill="#f08a0a"/>
<rect x="367.3" y="152.6" width="4.1" height="4.1" fill="#f08a0a"/>
<rect x="370.9" y="159.2" width="4.1" height="4.1" fill="#f08a0a"/>
<rect x="381.0" y="158.7" width="4.1" height="4.1" fill="#f08a0a"/>
<path d="M368.4 130.3v6.2h6.2z" fill="#1b98d3"/>
<path d="M374.8 132.9v6.2h6.2z" fill="#1b98d3"/>
<path d="M374.3 137.7v6.2h6.2z" fill="#1b98d3"/>
<path d="M380.1 143.0v6.2h6.2z" fill="#1b98d3"/>
<path d="M370.4 148.0v6.2h6.2z" fill="#1b98d3"/>
<path d="M377.6 147.7v6.2h6.2z" fill="#1b98d3"/>
<path d="M372.9 160.1v6.2h6.2z" fill="#1b98d3"/>
<polygon points="372.7,163.7 373.8,167.4 377.0,167.6 374.5,170.0 375.3,173.9 372.7,171.7 370.1,173.9 370.9,170.0 368.4,167.6 371.6,167.4" fill="#7667b6"/>
<polygon points="370.3,174.9 371.4,178.6 374.6,178.8 372.1,181.2 372.9,185.1 370.3,182.9 367.7,185.1 368.5,181.2 366.0,178.8 369.2,178.6" fill="#7667b6"/>
<polygon points="370.3,183.6 371.4,187.3 374.6,187.5 372.1,189.9 372.9,193.8 370.3,191.6 367.7,193.8 368.5,189.9 366.0,187.5 369.2,187.3" fill="#7667b6"/>
<polygon points="374.7,197.6 375.8,201.3 379.0,201.5 376.5,203.9 377.3,207.8 374.7,205.6 372.1,207.8 372.9,203.9 370.4,201.5 373.6,201.3" fill="#7667b6"/>
<polygon points="374.2,200.4 375.3,204.1 378.5,204.3 376.0,206.7 376.8,210.6 374.2,208.4 371.6,210.6 372.4,206.7 369.9,204.3 373.1,204.1" fill="#7667b6"/>
<polygon points="382.9,205.3 384.0,209.0 387.2,209.2 384.7,211.6 385.5,215.5 382.9,213.3 380.3,215.5 381.1,211.6 378.6,209.2 381.8,209.0" fill="#7667b6"/>
<polygon points="386.2,215.1 387.3,218.8 390.5,219.0 388.0,221.4 388.8,225.3 386.2,223.1 383.6,225.3 384.4,221.4 381.9,219.0 385.1,218.8" fill="#7667b6"/>
<polygon points="369.9,219.9 371.0,223.6 374.2,223.8 371.7,226.2 372.5,230.1 369.9,227.9 367.3,230.1 368.1,226.2 365.6,223.8 368.8,223.6" fill="#7667b6"/>
<polygon points="377.5,227.0 378.6,230.7 381.8,230.9 379.3,233.3 380.1,237.2 377.5,235.0 374.9,237.2 375.7,233.3 373.2,230.9 376.4,230.7" fill="#7667b6"/>
<polygon points="386.7,235.2 387.8,238.9 391.0,239.1 388.5,241.5 389.3,245.4 386.7,243.2 384.1,245.4 384.9,241.5 382.4,239.1 385.6,238.9" fill="#7667b6"/>
<polygon points="369.3,237.9 370.4,241.6 373.6,241.8 371.1,244.2 371.9,248.1 369.3,245.9 366.7,248.1 367.5,244.2 365.0,241.8 368.2,241.6" fill="#7667b6"/>
<polygon points="389.1,238.0 390.2,241.7 393.4,241.9 390.9,244.3 391.7,248.2 389.1,246.0 386.5,248.2 387.3,244.3 384.8,241.9 388.0,241.7" fill="#7667b6"/>
<polygon points="403.0,242.2 404.1,245.9 407.3,246.1 404.8,248.5 405.6,252.4 403.0,250.2 400.4,252.4 401.2,248.5 398.7,246.1 401.9,245.9" fill="#7667b6"/>
<polygon points="383.7,247.1 384.8,250.8 388.0,251.0 385.5,253.4 386.3,257.3 383.7,255.1 381.1,257.3 381.9,253.4 379.4,251.0 382.6,250.8" fill="#7667b6"/>
<polygon points="370.4,265.8 371.5,269.5 374.7,269.7 372.2,272.1 373.0,276.0 370.4,273.8 367.8,276.0 368.6,272.1 366.1,269.7 369.3,269.5" fill="#7667b6"/>
<polygon points="367.4,274.2 368.5,277.9 371.7,278.1 369.2,280.5 370.0,284.4 367.4,282.2 364.8,284.4 365.6,280.5 363.1,278.1 366.3,277.9" fill="#7667b6"/>
<polygon points="382.7,205.3 383.8,209.0 387.0,209.2 384.5,211.6 385.3,215.5 382.7,213.3 380.1,215.5 380.9,211.6 378.4,209.2 381.6,209.0" fill="#7667b6"/>
<polygon points="386.6,214.6 387.7,218.3 390.9,218.5 388.4,220.9 389.2,224.8 386.6,222.6 384.0,224.8 384.8,220.9 382.3,218.5 385.5,218.3" fill="#7667b6"/>
<polygon points="389.3,237.2 390.4,240.9 393.6,241.1 391.1,243.5 391.9,247.4 389.3,245.2 386.7,247.4 387.5,243.5 385.0,241.1 388.2,240.9" fill="#7667b6"/>
<polygon points="403.2,241.2 404.3,244.9 407.5,245.1 405.0,247.5 405.8,251.4 403.2,249.2 400.6,251.4 401.4,247.5 398.9,245.1 402.1,244.9" fill="#7667b6"/>
<polygon points="381.3,233.2 382.4,236.9 385.6,237.1 383.1,239.5 383.9,243.4 381.3,241.2 378.7,243.4 379.5,239.5 377.0,237.1 380.2,236.9" fill="#7667b6"/>
<circle cx="372.9" cy="100.2" r="2.0" fill="#e02428"/>
<circle cx="369.8" cy="119.0" r="2.0" fill="#e02428"/>
<circle cx="369.8" cy="123.0" r="2.0" fill="#e02428"/>
<circle cx="369.3" cy="219.6" r="2.5" fill="#e02428"/>
<circle cx="372.6" cy="221.7" r="2.5" fill="#e02428"/>
<circle cx="370.4" cy="225.0" r="2.5" fill="#e02428"/>
<circle cx="369.9" cy="231.5" r="2.5" fill="#e02428"/>
<circle cx="369.9" cy="235.9" r="2.5" fill="#e02428"/>
<circle cx="370.4" cy="256.9" r="2.5" fill="#e02428"/>
<circle cx="372.8" cy="259.3" r="2.5" fill="#e02428"/>
<circle cx="369.8" cy="286.5" r="2.5" fill="#e02428"/>
<circle cx="369.8" cy="288.6" r="2.5" fill="#e02428"/>
<circle cx="372.0" cy="228.0" r="2.5" fill="#e02428"/>
<circle cx="374.5" cy="225.0" r="2.5" fill="#e02428"/>
<path d="M371.6 101.6h4.2l-2.1 -3.6z" fill="#2f2b95"/>
<path d="M382.2 130.6h4.2l-2.1 -3.6z" fill="#2f2b95"/>
<path d="M377.4 125.8h4.2l-2.1 -3.6z" fill="#2f2b95"/>
<path d="M381.4 219.2h4.2l-2.1 -3.6z" fill="#2f2b95"/>
<path d="M383.7 183.7h4.2l-2.1 -3.6z" fill="#2f2b95"/>
<path d="M381.3 205.4h4.2l-2.1 -3.6z" fill="#2f2b95"/>
<rect x="451.6" y="270.8" width="4.3" height="4.3" fill="#0f9e5e"/>
<rect x="438.8" y="289.5" width="4.3" height="4.3" fill="#0f9e5e"/>
<rect x="448.4" y="329.5" width="4.3" height="4.3" fill="#0f9e5e"/>
<rect x="432.6" y="346.4" width="4.3" height="4.3" fill="#0f9e5e"/>
<rect x="388.9" y="249.3" width="4.3" height="4.3" fill="#0f9e5e"/>
<rect x="408.8" y="256.6" width="4.3" height="4.3" fill="#0f9e5e"/>
<rect x="402.7" y="262.6" width="4.3" height="4.3" fill="#0f9e5e"/>
<rect x="402.1" y="265.7" width="4.3" height="4.3" fill="#0f9e5e"/>
<rect x="428.7" y="266.9" width="4.3" height="4.3" fill="#0f9e5e"/>
<rect x="379.2" y="265.1" width="4.3" height="4.3" fill="#0f9e5e"/>
<rect x="397.9" y="273.5" width="4.3" height="4.3" fill="#0f9e5e"/>
<rect x="403.2" y="276.5" width="4.3" height="4.3" fill="#0f9e5e"/>
<rect x="398.5" y="280.1" width="4.3" height="4.3" fill="#0f9e5e"/>
<rect x="372.6" y="268.1" width="4.3" height="4.3" fill="#0f9e5e"/>
<rect x="375.0" y="285.0" width="4.3" height="4.3" fill="#0f9e5e"/>
<rect x="387.0" y="276.5" width="4.3" height="4.3" fill="#0f9e5e"/>
<rect x="391.2" y="265.7" width="4.3" height="4.3" fill="#0f9e5e"/>
<rect x="370.1" y="287.7" width="4.3" height="4.3" fill="#0f9e5e"/>
<rect x="373.8" y="286.5" width="4.3" height="4.3" fill="#0f9e5e"/>
<rect x="393.1" y="287.1" width="4.3" height="4.3" fill="#0f9e5e"/>
<rect x="392.5" y="289.5" width="4.3" height="4.3" fill="#0f9e5e"/>
<rect x="404.5" y="287.7" width="4.3" height="4.3" fill="#0f9e5e"/>
<rect x="405.7" y="290.1" width="4.3" height="4.3" fill="#0f9e5e"/>
<rect x="370.1" y="293.8" width="4.3" height="4.3" fill="#0f9e5e"/>
<rect x="368.9" y="298.6" width="4.3" height="4.3" fill="#0f9e5e"/>
<rect x="372.6" y="301.0" width="4.3" height="4.3" fill="#0f9e5e"/>
<rect x="368.2" y="304.0" width="4.3" height="4.3" fill="#0f9e5e"/>
<rect x="372.6" y="307.0" width="4.3" height="4.3" fill="#0f9e5e"/>
<rect x="392.5" y="301.6" width="4.3" height="4.3" fill="#0f9e5e"/>
<rect x="400.9" y="296.8" width="4.3" height="4.3" fill="#0f9e5e"/>
<rect x="411.8" y="302.8" width="4.3" height="4.3" fill="#0f9e5e"/>
<rect x="429.9" y="292.0" width="4.3" height="4.3" fill="#0f9e5e"/>
<rect x="383.4" y="312.5" width="4.3" height="4.3" fill="#0f9e5e"/>
<rect x="388.9" y="316.1" width="4.3" height="4.3" fill="#0f9e5e"/>
<rect x="407.0" y="316.1" width="4.3" height="4.3" fill="#0f9e5e"/>
<rect x="403.9" y="307.6" width="4.3" height="4.3" fill="#0f9e5e"/>
<rect x="421.4" y="310.1" width="4.3" height="4.3" fill="#0f9e5e"/>
<rect x="431.1" y="311.9" width="4.3" height="4.3" fill="#0f9e5e"/>
<rect x="368.2" y="317.9" width="4.3" height="4.3" fill="#0f9e5e"/>
<rect x="390.7" y="323.9" width="4.3" height="4.3" fill="#0f9e5e"/>
<rect x="400.2" y="322.1" width="4.3" height="4.3" fill="#0f9e5e"/>
<rect x="372.6" y="325.7" width="4.3" height="4.3" fill="#0f9e5e"/>
<rect x="378.6" y="331.2" width="4.3" height="4.3" fill="#0f9e5e"/>
<rect x="391.9" y="331.8" width="4.3" height="4.3" fill="#0f9e5e"/>
<rect x="366.5" y="321.5" width="4.3" height="4.3" fill="#0f9e5e"/>
<rect x="372.0" y="325.9" width="4.3" height="4.3" fill="#0f9e5e"/>
<rect x="375.0" y="330.7" width="4.3" height="4.3" fill="#0f9e5e"/>
<rect x="378.6" y="332.6" width="4.3" height="4.3" fill="#0f9e5e"/>
<rect x="391.2" y="332.6" width="4.3" height="4.3" fill="#0f9e5e"/>
<rect x="391.9" y="335.0" width="4.3" height="4.3" fill="#0f9e5e"/>
<rect x="395.5" y="336.8" width="4.3" height="4.3" fill="#0f9e5e"/>
<rect x="367.1" y="342.2" width="4.3" height="4.3" fill="#0f9e5e"/>
<rect x="371.2" y="345.2" width="4.3" height="4.3" fill="#0f9e5e"/>
<rect x="392.5" y="344.6" width="4.3" height="4.3" fill="#0f9e5e"/>
<rect x="431.7" y="345.8" width="4.3" height="4.3" fill="#0f9e5e"/>
<rect x="368.9" y="358.9" width="4.3" height="4.3" fill="#0f9e5e"/>
<rect x="388.4" y="231.0" width="4.3" height="4.3" fill="#0f9e5e"/>
<rect x="372.1" y="235.3" width="4.3" height="4.3" fill="#0f9e5e"/>
<rect x="367.9" y="289.9" width="4.3" height="4.3" fill="#0f9e5e"/>
<rect x="370.9" y="295.9" width="4.3" height="4.3" fill="#0f9e5e"/>
<rect x="373.9" y="297.9" width="4.3" height="4.3" fill="#0f9e5e"/>
<rect x="367.9" y="307.9" width="4.3" height="4.3" fill="#0f9e5e"/>
<rect x="369.9" y="310.9" width="4.3" height="4.3" fill="#0f9e5e"/>
<rect x="373.9" y="302.9" width="4.3" height="4.3" fill="#0f9e5e"/>
<rect x="367.4" y="294.9" width="4.3" height="4.3" fill="#0f9e5e"/>
<rect x="374.9" y="290.9" width="4.3" height="4.3" fill="#0f9e5e"/>
<rect x="388.5" y="231.3" width="4.3" height="4.3" fill="#0f9e5e"/>
<circle cx="443.9" cy="267.6" r="2.3" fill="#dc0882"/>
<circle cx="540.2" cy="266.4" r="2.3" fill="#dc0882"/>
<circle cx="467.2" cy="281.6" r="2.3" fill="#dc0882"/>
<circle cx="472.8" cy="287.4" r="2.3" fill="#dc0882"/>
<circle cx="496.1" cy="290.4" r="2.3" fill="#dc0882"/>
<circle cx="444.9" cy="313.2" r="2.3" fill="#dc0882"/>
<circle cx="476.8" cy="310.2" r="2.3" fill="#dc0882"/>
<circle cx="522.0" cy="310.2" r="2.3" fill="#dc0882"/>
<circle cx="539.3" cy="315.5" r="2.3" fill="#dc0882"/>
<circle cx="494.3" cy="320.5" r="2.3" fill="#dc0882"/>
<circle cx="480.3" cy="330.2" r="2.3" fill="#dc0882"/>
<circle cx="478.2" cy="344.8" r="2.3" fill="#dc0882"/>
<circle cx="523.2" cy="351.0" r="2.3" fill="#dc0882"/>
<circle cx="540.2" cy="344.8" r="2.3" fill="#dc0882"/>
<circle cx="554.5" cy="343.8" r="2.3" fill="#dc0882"/>
<circle cx="587.8" cy="320.7" r="2.3" fill="#dc0882"/>
<circle cx="600.9" cy="327.2" r="2.3" fill="#dc0882"/>
<circle cx="607.2" cy="323.1" r="2.3" fill="#dc0882"/>
<circle cx="377.7" cy="252.1" r="2.3" fill="#dc0882"/>
<circle cx="392.5" cy="259.3" r="2.3" fill="#dc0882"/>
<circle cx="377.7" cy="262.3" r="2.3" fill="#dc0882"/>
<circle cx="382.5" cy="262.3" r="2.3" fill="#dc0882"/>
<circle cx="383.7" cy="263.5" r="2.3" fill="#dc0882"/>
<circle cx="397.0" cy="263.5" r="2.3" fill="#dc0882"/>
<circle cx="397.0" cy="267.2" r="2.3" fill="#dc0882"/>
<circle cx="390.3" cy="266.0" r="2.3" fill="#dc0882"/>
<circle cx="386.1" cy="268.4" r="2.3" fill="#dc0882"/>
<circle cx="391.0" cy="269.0" r="2.3" fill="#dc0882"/>
<circle cx="377.1" cy="268.4" r="2.3" fill="#dc0882"/>
<circle cx="385.5" cy="271.4" r="2.3" fill="#dc0882"/>
<circle cx="390.3" cy="271.4" r="2.3" fill="#dc0882"/>
<circle cx="396.4" cy="272.0" r="2.3" fill="#dc0882"/>
<circle cx="387.9" cy="275.0" r="2.3" fill="#dc0882"/>
<circle cx="395.2" cy="275.0" r="2.3" fill="#dc0882"/>
<circle cx="377.7" cy="273.8" r="2.3" fill="#dc0882"/>
<circle cx="380.1" cy="275.6" r="2.3" fill="#dc0882"/>
<circle cx="378.3" cy="278.6" r="2.3" fill="#dc0882"/>
<circle cx="384.9" cy="278.6" r="2.3" fill="#dc0882"/>
<circle cx="402.4" cy="277.4" r="2.3" fill="#dc0882"/>
<circle cx="385.5" cy="281.6" r="2.3" fill="#dc0882"/>
<circle cx="396.6" cy="282.2" r="2.3" fill="#dc0882"/>
<circle cx="407.8" cy="282.2" r="2.3" fill="#dc0882"/>
<circle cx="411.5" cy="272.6" r="2.3" fill="#dc0882"/>
<circle cx="416.7" cy="275.0" r="2.3" fill="#dc0882"/>
<circle cx="413.9" cy="258.7" r="2.3" fill="#dc0882"/>
<circle cx="420.8" cy="264.7" r="2.3" fill="#dc0882"/>
<circle cx="380.7" cy="286.5" r="2.3" fill="#dc0882"/>
<circle cx="387.9" cy="286.5" r="2.3" fill="#dc0882"/>
<circle cx="404.8" cy="286.5" r="2.3" fill="#dc0882"/>
<circle cx="421.7" cy="287.1" r="2.3" fill="#dc0882"/>
<circle cx="381.9" cy="286.8" r="2.3" fill="#dc0882"/>
<circle cx="387.3" cy="286.2" r="2.3" fill="#dc0882"/>
<circle cx="377.7" cy="291.0" r="2.3" fill="#dc0882"/>
<circle cx="387.3" cy="289.8" r="2.3" fill="#dc0882"/>
<circle cx="390.3" cy="291.6" r="2.3" fill="#dc0882"/>
<circle cx="400.0" cy="290.4" r="2.3" fill="#dc0882"/>
<circle cx="403.6" cy="292.2" r="2.3" fill="#dc0882"/>
<circle cx="410.9" cy="290.4" r="2.3" fill="#dc0882"/>
<circle cx="413.3" cy="291.6" r="2.3" fill="#dc0882"/>
<circle cx="415.7" cy="289.2" r="2.3" fill="#dc0882"/>
<circle cx="421.7" cy="287.4" r="2.3" fill="#dc0882"/>
<circle cx="424.1" cy="289.8" r="2.3" fill="#dc0882"/>
<circle cx="405.4" cy="286.8" r="2.3" fill="#dc0882"/>
<circle cx="375.3" cy="295.9" r="2.3" fill="#dc0882"/>
<circle cx="378.9" cy="297.1" r="2.3" fill="#dc0882"/>
<circle cx="383.1" cy="294.1" r="2.3" fill="#dc0882"/>
<circle cx="383.7" cy="297.1" r="2.3" fill="#dc0882"/>
<circle cx="388.5" cy="296.5" r="2.3" fill="#dc0882"/>
<circle cx="401.2" cy="295.9" r="2.3" fill="#dc0882"/>
<circle cx="416.3" cy="295.9" r="2.3" fill="#dc0882"/>
<circle cx="379.5" cy="300.7" r="2.3" fill="#dc0882"/>
<circle cx="385.5" cy="300.7" r="2.3" fill="#dc0882"/>
<circle cx="398.8" cy="300.7" r="2.3" fill="#dc0882"/>
<circle cx="390.3" cy="304.3" r="2.3" fill="#dc0882"/>
<circle cx="419.3" cy="303.1" r="2.3" fill="#dc0882"/>
<circle cx="434.4" cy="303.7" r="2.3" fill="#dc0882"/>
<circle cx="378.9" cy="307.3" r="2.3" fill="#dc0882"/>
<circle cx="384.3" cy="307.3" r="2.3" fill="#dc0882"/>
<circle cx="403.0" cy="309.7" r="2.3" fill="#dc0882"/>
<circle cx="374.1" cy="311.0" r="2.3" fill="#dc0882"/>
<circle cx="430.8" cy="309.7" r="2.3" fill="#dc0882"/>
<circle cx="380.1" cy="314.0" r="2.3" fill="#dc0882"/>
<circle cx="372.2" cy="315.8" r="2.3" fill="#dc0882"/>
<circle cx="400.0" cy="315.8" r="2.3" fill="#dc0882"/>
<circle cx="426.5" cy="315.2" r="2.3" fill="#dc0882"/>
<circle cx="423.5" cy="320.0" r="2.3" fill="#dc0882"/>
<circle cx="378.9" cy="320.0" r="2.3" fill="#dc0882"/>
<circle cx="374.1" cy="321.8" r="2.3" fill="#dc0882"/>
<circle cx="371.0" cy="324.2" r="2.3" fill="#dc0882"/>
<circle cx="379.5" cy="323.6" r="2.3" fill="#dc0882"/>
<circle cx="379.5" cy="326.6" r="2.3" fill="#dc0882"/>
<circle cx="406.0" cy="324.2" r="2.3" fill="#dc0882"/>
<circle cx="380.7" cy="329.0" r="2.3" fill="#dc0882"/>
<circle cx="406.6" cy="328.4" r="2.3" fill="#dc0882"/>
<circle cx="376.5" cy="332.7" r="2.3" fill="#dc0882"/>
<circle cx="383.7" cy="332.7" r="2.3" fill="#dc0882"/>
<circle cx="399.4" cy="332.7" r="2.3" fill="#dc0882"/>
<circle cx="409.1" cy="333.3" r="2.3" fill="#dc0882"/>
<circle cx="371.0" cy="325.0" r="2.3" fill="#dc0882"/>
<circle cx="406.6" cy="325.6" r="2.3" fill="#dc0882"/>
<circle cx="407.2" cy="329.2" r="2.3" fill="#dc0882"/>
<circle cx="377.1" cy="332.8" r="2.3" fill="#dc0882"/>
<circle cx="409.0" cy="333.7" r="2.3" fill="#dc0882"/>
<circle cx="374.7" cy="346.1" r="2.3" fill="#dc0882"/>
<circle cx="417.1" cy="349.4" r="2.3" fill="#dc0882"/>
<circle cx="382.5" cy="354.0" r="2.3" fill="#dc0882"/>
<circle cx="374.7" cy="359.2" r="2.3" fill="#dc0882"/>
<circle cx="385.8" cy="360.6" r="2.3" fill="#dc0882"/>
<circle cx="381.8" cy="223.4" r="2.3" fill="#dc0882"/>
<circle cx="378.0" cy="233.7" r="2.3" fill="#dc0882"/>
<circle cx="404.7" cy="231.5" r="2.3" fill="#dc0882"/>
<circle cx="405.0" cy="231.1" r="2.3" fill="#dc0882"/>
<circle cx="382.0" cy="222.9" r="2.3" fill="#dc0882"/>
<path d="M48.7 85.6C50.1 88.5 54.4 98.3 56.9 102.8C59.4 107.3 61.4 109.6 64.0 112.5C66.6 115.4 69.9 117.9 72.6 120.0C75.3 122.1 77.2 123.3 80.0 125.2C82.8 127.1 86.0 129.4 89.5 131.5C93.0 133.6 95.9 135.0 101.0 137.5C106.1 140.0 112.8 143.7 120.0 146.4C127.2 149.1 136.0 151.6 144.0 153.6C152.0 155.6 160.0 156.9 168.0 158.2C176.0 159.5 183.9 160.1 192.0 161.6C200.1 163.1 209.6 165.0 216.5 167.4C223.4 169.8 229.2 172.9 233.4 175.9C237.6 178.9 240.3 182.8 241.9 185.5C243.5 188.2 243.7 188.8 243.1 192.0C242.5 195.2 241.1 200.4 238.3 204.8C235.5 209.2 232.4 214.2 226.2 218.5C220.0 222.8 209.4 226.8 201.0 230.5C192.6 234.2 184.2 237.0 175.5 240.5C166.8 244.0 158.2 246.8 149.0 251.4C139.8 256.0 128.5 261.9 120.0 268.3C111.5 274.7 103.7 283.9 98.0 290.0C92.3 296.1 91.0 296.9 86.0 305.0C81.0 313.1 73.6 326.1 67.8 338.3C61.9 350.5 53.7 371.7 50.9 378.4" fill="none" stroke="#3a3838" stroke-width="1.15" stroke-dasharray="5.6 3.4"/>
<path d="M371.0 47.9C372.0 49.4 374.1 53.2 377.1 56.9C380.1 60.6 385.2 66.6 389.2 70.2C393.2 73.8 396.9 76.1 401.3 78.7C405.7 81.3 410.8 83.2 415.8 85.7C420.8 88.2 427.5 91.8 431.5 93.6C435.5 95.4 435.7 95.0 440.0 96.3C444.3 97.6 451.7 100.0 457.5 101.5C463.3 103.0 469.1 104.3 475.0 105.3C480.9 106.3 485.3 106.8 492.6 107.5C499.9 108.2 510.0 108.8 518.8 109.4C527.5 110.0 535.3 110.0 545.1 111.2C554.9 112.4 569.1 114.2 577.8 116.4C586.4 118.6 591.5 121.3 597.0 124.5C602.5 127.7 606.9 131.6 611.0 135.5C615.1 139.4 619.2 143.7 621.6 147.8C624.0 151.9 624.8 156.2 625.1 160.0C625.4 163.8 624.8 166.7 623.3 170.5C621.8 174.3 618.9 179.5 616.3 182.8C613.7 186.1 612.0 187.2 607.6 190.5C603.2 193.8 595.9 198.7 590.0 202.3C584.1 205.9 578.0 209.0 572.5 211.9C567.0 214.8 566.0 215.3 556.8 219.5C547.6 223.7 530.7 231.6 517.1 236.8C503.5 242.0 487.0 246.0 475.0 250.8C463.0 255.6 453.8 260.0 445.3 265.7C436.8 271.4 430.7 278.0 424.1 285.0C417.6 292.0 411.6 299.8 406.0 307.9C400.4 315.9 394.0 326.3 390.3 333.3C386.6 340.3 385.4 345.8 383.6 350.0C381.8 354.2 381.3 354.0 379.5 358.4C377.7 362.8 373.8 373.6 372.6 376.6" fill="none" stroke="#e2343a" stroke-width="1.15" stroke-dasharray="5.4 3.8"/>
<path d="M375.0 108.0C376.0 110.3 378.5 115.8 381.0 122.0C383.5 128.2 386.9 137.2 390.0 145.0C393.1 152.8 396.1 161.4 399.7 168.9C403.2 176.4 407.4 183.3 411.3 190.1C415.2 196.8 418.4 203.3 422.9 209.4C427.4 215.5 432.6 221.4 438.4 226.8C444.2 232.2 451.4 237.8 457.5 242.0C463.6 246.2 467.7 248.3 475.0 251.7C482.3 255.1 493.4 259.3 501.3 262.2C509.2 265.1 516.8 267.1 522.3 269.2C527.8 271.3 529.1 272.5 534.6 274.6C540.1 276.7 550.1 280.1 555.0 282.0C559.9 283.9 559.4 283.8 563.8 285.9C568.2 287.9 576.9 291.9 581.3 294.3C585.7 296.7 586.6 297.7 590.0 300.0C593.4 302.3 598.6 305.0 601.4 307.9C604.2 310.8 606.1 314.7 606.7 317.5C607.3 320.3 606.2 322.2 604.9 324.5C603.6 326.8 602.7 329.0 598.8 331.5C594.9 334.0 587.1 337.1 581.3 339.4C575.5 341.7 570.7 343.8 563.8 345.5C556.9 347.2 546.9 348.6 540.0 349.5C533.1 350.4 532.0 350.2 522.2 351.2C512.4 352.2 493.9 353.3 481.3 355.7C468.7 358.1 454.1 363.4 446.5 365.4C438.9 367.4 439.8 366.8 435.7 367.6C431.6 368.4 426.6 369.2 422.1 370.3C417.6 371.4 412.7 373.0 408.6 374.4C404.6 375.8 401.2 376.9 397.8 378.4C394.4 379.9 391.0 381.5 388.3 383.2C385.6 384.9 383.5 386.7 381.5 388.6C379.5 390.5 377.7 392.4 376.1 394.7C374.5 396.9 372.8 400.9 372.1 402.1" fill="none" stroke="#1f9e6a" stroke-width="1.15" stroke-dasharray="5.4 3.8"/>
<path d="M577.8 116.4L595.8 98.1" stroke="#111" stroke-width="1.2"/><path d="M599.7 94.2L597.3 100.3L596.5 97.4L593.6 96.6z" fill="#111"/>
<path d="M563.8 285.9L591.4 258.8" stroke="#111" stroke-width="1.2"/><path d="M595.3 254.9L592.8 261.0L592.1 258.1L589.2 257.3z" fill="#111"/>
<text x="47.0" y="33.7" font-size="10.5" text-anchor="middle" >0</text>
<text x="97.9" y="33.7" font-size="10.5" text-anchor="middle" >2000</text>
<text x="148.8" y="33.7" font-size="10.5" text-anchor="middle" >4000</text>
<text x="199.7" y="33.7" font-size="10.5" text-anchor="middle" >6000</text>
<text x="250.6" y="33.7" font-size="10.5" text-anchor="middle" >8000</text>
<text x="301.5" y="33.7" font-size="10.5" text-anchor="middle" >10000</text>
<text x="39.8" y="45.9" font-size="10.5" text-anchor="end" >0</text>
<text x="39.8" y="137.2" font-size="10.5" text-anchor="end" >50</text>
<text x="39.8" y="228.4" font-size="10.5" text-anchor="end" >100</text>
<text x="39.8" y="319.6" font-size="10.5" text-anchor="end" >150</text>
<text x="39.8" y="410.8" font-size="10.5" text-anchor="end" >250</text>
<text x="368.3" y="33.7" font-size="10.5" text-anchor="middle" >0</text>
<text x="429.3" y="33.7" font-size="10.5" text-anchor="middle" >500</text>
<text x="490.2" y="33.7" font-size="10.5" text-anchor="middle" >1000</text>
<text x="551.2" y="33.7" font-size="10.5" text-anchor="middle" >1500</text>
<text x="612.1" y="33.7" font-size="10.5" text-anchor="middle" >2000</text>
<text x="673.1" y="33.7" font-size="10.5" text-anchor="middle" >2500</text>
<text x="361.8" y="45.8" font-size="10.5" text-anchor="end" >0</text>
<text x="361.8" y="71.9" font-size="10.5" text-anchor="end" >0.5</text>
<text x="361.8" y="98.1" font-size="10.5" text-anchor="end" >1.0</text>
<text x="361.8" y="124.2" font-size="10.5" text-anchor="end" >1.5</text>
<text x="361.8" y="150.3" font-size="10.5" text-anchor="end" >2.0</text>
<text x="361.8" y="176.5" font-size="10.5" text-anchor="end" >2.5</text>
<text x="361.8" y="202.6" font-size="10.5" text-anchor="end" >3.0</text>
<text x="361.8" y="228.8" font-size="10.5" text-anchor="end" >3.5</text>
<text x="361.8" y="254.9" font-size="10.5" text-anchor="end" >4.0</text>
<text x="361.8" y="281.0" font-size="10.5" text-anchor="end" >4.5</text>
<text x="361.8" y="307.2" font-size="10.5" text-anchor="end" >5.0</text>
<text x="361.8" y="333.3" font-size="10.5" text-anchor="end" >5.5</text>
<text x="361.8" y="359.4" font-size="10.5" text-anchor="end" >6.0</text>
<text x="361.8" y="385.6" font-size="10.5" text-anchor="end" >6.5</text>
<text x="361.8" y="411.7" font-size="10.5" text-anchor="end" >7.0</text>
<text x="174.1" y="12.3" font-size="14.4" text-anchor="middle" textLength="120.4" lengthAdjust="spacingAndGlyphs">Organic acids, ppm</text>
<text x="520.6" y="12.3" font-size="14.4" text-anchor="middle" textLength="120.4" lengthAdjust="spacingAndGlyphs">Organic acids, ppm</text>
<text x="10.3" y="12.4" font-size="12.6" text-anchor="start" font-weight="bold">(a)</text>
<text x="350.6" y="12.4" font-size="12.6" text-anchor="start" font-weight="bold">(b)</text>
<text transform="translate(12.5 224) rotate(-90)" font-size="13.6" text-anchor="middle" textLength="27.6" lengthAdjust="spacingAndGlyphs"><tspan font-style="italic">T</tspan>, °C</text>
<text transform="translate(337.2 225) rotate(-90)" font-size="14" text-anchor="middle">Depth, km</text>
<text x="600.3" y="78.7" font-size="10.4" text-anchor="start" >Basins in</text>
<text x="600.3" y="89.5" font-size="10.4" text-anchor="start" >East China</text>
<text x="600.9" y="249.6" font-size="10.4" text-anchor="start" >Basins in</text>
<text x="600.9" y="260.4" font-size="10.4" text-anchor="start" >West China</text>
<path d="M73.9 331.0h4.6l-2.3 4.0z" fill="#28306e"/>
<text x="81.5" y="336.7" font-size="10.5" text-anchor="start" >California</text>
<circle cx="76.2" cy="346.4" r="2.3" fill="#000"/>
<text x="81.5" y="350.1" font-size="10.5" text-anchor="start" >Piceance Basin</text>
<path d="M74.1 357.5l4.2 4.2M78.3 357.5l-4.2 4.2" stroke="#e3282a" stroke-width="1.2" fill="none"/>
<text x="81.5" y="363.3" font-size="10.5" text-anchor="start" >Weshakle Basin</text>
<path d="M76.2 370.1l2.7 2.7l-2.7 2.7l-2.7 -2.7z" fill="#b25bb5"/>
<text x="81.5" y="376.5" font-size="10.5" text-anchor="start" >Red Dessert Basin</text>
<path d="M74.1 384.0l4.2 4.2M78.3 384.0l-4.2 4.2" stroke="#7d7d7d" stroke-width="1.1" fill="none"/>
<text x="81.5" y="389.8" font-size="10.5" text-anchor="start" >San-Juan Basin</text>
<path d="M73.9 401.2h4.6l-2.3 -4.0z" fill="#b25bb5"/>
<text x="81.5" y="402.9" font-size="10.5" text-anchor="start" >San Joaquin Basin</text>
<path d="M174.0 293.5h4.6l-2.3 4.0z" fill="#000"/>
<text x="180.9" y="299.2" font-size="10.5" text-anchor="start" >Alaska</text>
<circle cx="176.3" cy="308.5" r="2.3" fill="#7b7b2c"/>
<text x="180.9" y="312.2" font-size="10.5" text-anchor="start" >Texas</text>
<polygon points="176.3,318.8 177.0,320.5 178.8,320.6 177.4,321.8 177.8,323.5 176.3,322.6 174.8,323.5 175.2,321.8 173.8,320.6 175.6,320.5" fill="#e3282a"/>
<text x="180.9" y="325.1" font-size="10.5" text-anchor="start" >Raton Basin</text>
<circle cx="176.3" cy="334.3" r="2.3" fill="#dc2a26"/>
<text x="180.9" y="338.0" font-size="10.5" text-anchor="start" >Santa Maria Basin</text>
<circle cx="176.3" cy="347.3" r="2.3" fill="#177c3b"/>
<text x="180.9" y="351.0" font-size="10.5" text-anchor="start" >Wamsuttter anticline</text>
<path d="M174.2 360.8h4.8M176.6 358.4v4.8" stroke="#e3282a" stroke-width="1.7" fill="none"/>
<text x="180.9" y="364.0" font-size="10.5" text-anchor="start" >Gulf Coast Basin</text>
<polygon points="176.3,370.7 177.0,372.4 178.8,372.5 177.4,373.7 177.8,375.4 176.3,374.5 174.8,375.4 175.2,373.7 173.8,372.5 175.6,372.4" fill="#000"/>
<text x="180.9" y="377.0" font-size="10.5" text-anchor="start" >Louisiana Gulf Coast</text>
<rect x="174.5" y="384.5" width="3.6" height="3.6" fill="#f0891a"/>
<text x="180.9" y="390.0" font-size="10.5" text-anchor="start" >Weatern overthrust fault</text>
<path d="M174.2 397.2l4.2 4.2M178.4 397.2l-4.2 4.2" stroke="#28306e" stroke-width="1.3" fill="none"/>
<text x="180.9" y="403.0" font-size="10.5" text-anchor="start" >Eastern Venezuela Basin</text>
<polygon points="432.3,371.3 433.5,374.9 437.0,375.0 434.3,377.4 435.2,381.1 432.3,379.0 429.4,381.1 430.3,377.4 427.6,375.0 431.1,374.9" fill="#7667b6"/>
<text x="439.5" y="380.1" font-size="10.5" text-anchor="start" >Qikou Sag</text>
<rect x="430.5" y="386.7" width="3.6" height="3.6" fill="#0f9e5e"/>
<text x="439.5" y="392.2" font-size="10.5" text-anchor="start" >Tabei Basin</text>
<circle cx="432.3" cy="400.5" r="2.1" fill="#dc0882"/>
<text x="439.5" y="404.2" font-size="10.5" text-anchor="start" >Tarim Basin</text>
<path d="M498.0 362.3v4.0h4.0z" fill="#1b98d3"/>
<text x="506.0" y="368.0" font-size="10.5" text-anchor="start" >Northern part of Songliao Basin</text>
<circle cx="500.0" cy="376.4" r="2.4" fill="#e02428"/>
<text x="506.0" y="380.1" font-size="10.5" text-anchor="start" >Yuanyanggou area in Liaohe Basin</text>
<rect x="498.2" y="386.7" width="3.6" height="3.6" fill="#f08a0a"/>
<text x="506.0" y="392.2" font-size="10.5" text-anchor="start" >Xujiaweizi Rift in Songliao Basin</text>
<path d="M496.8 403.2h6.4l-3.2 -5.4z" fill="#2f2b95"/>
<text x="506.0" y="404.2" font-size="10.5" text-anchor="start" >Qingshui Sag in Liaohe Basin</text>
</svg>
</body></html>
